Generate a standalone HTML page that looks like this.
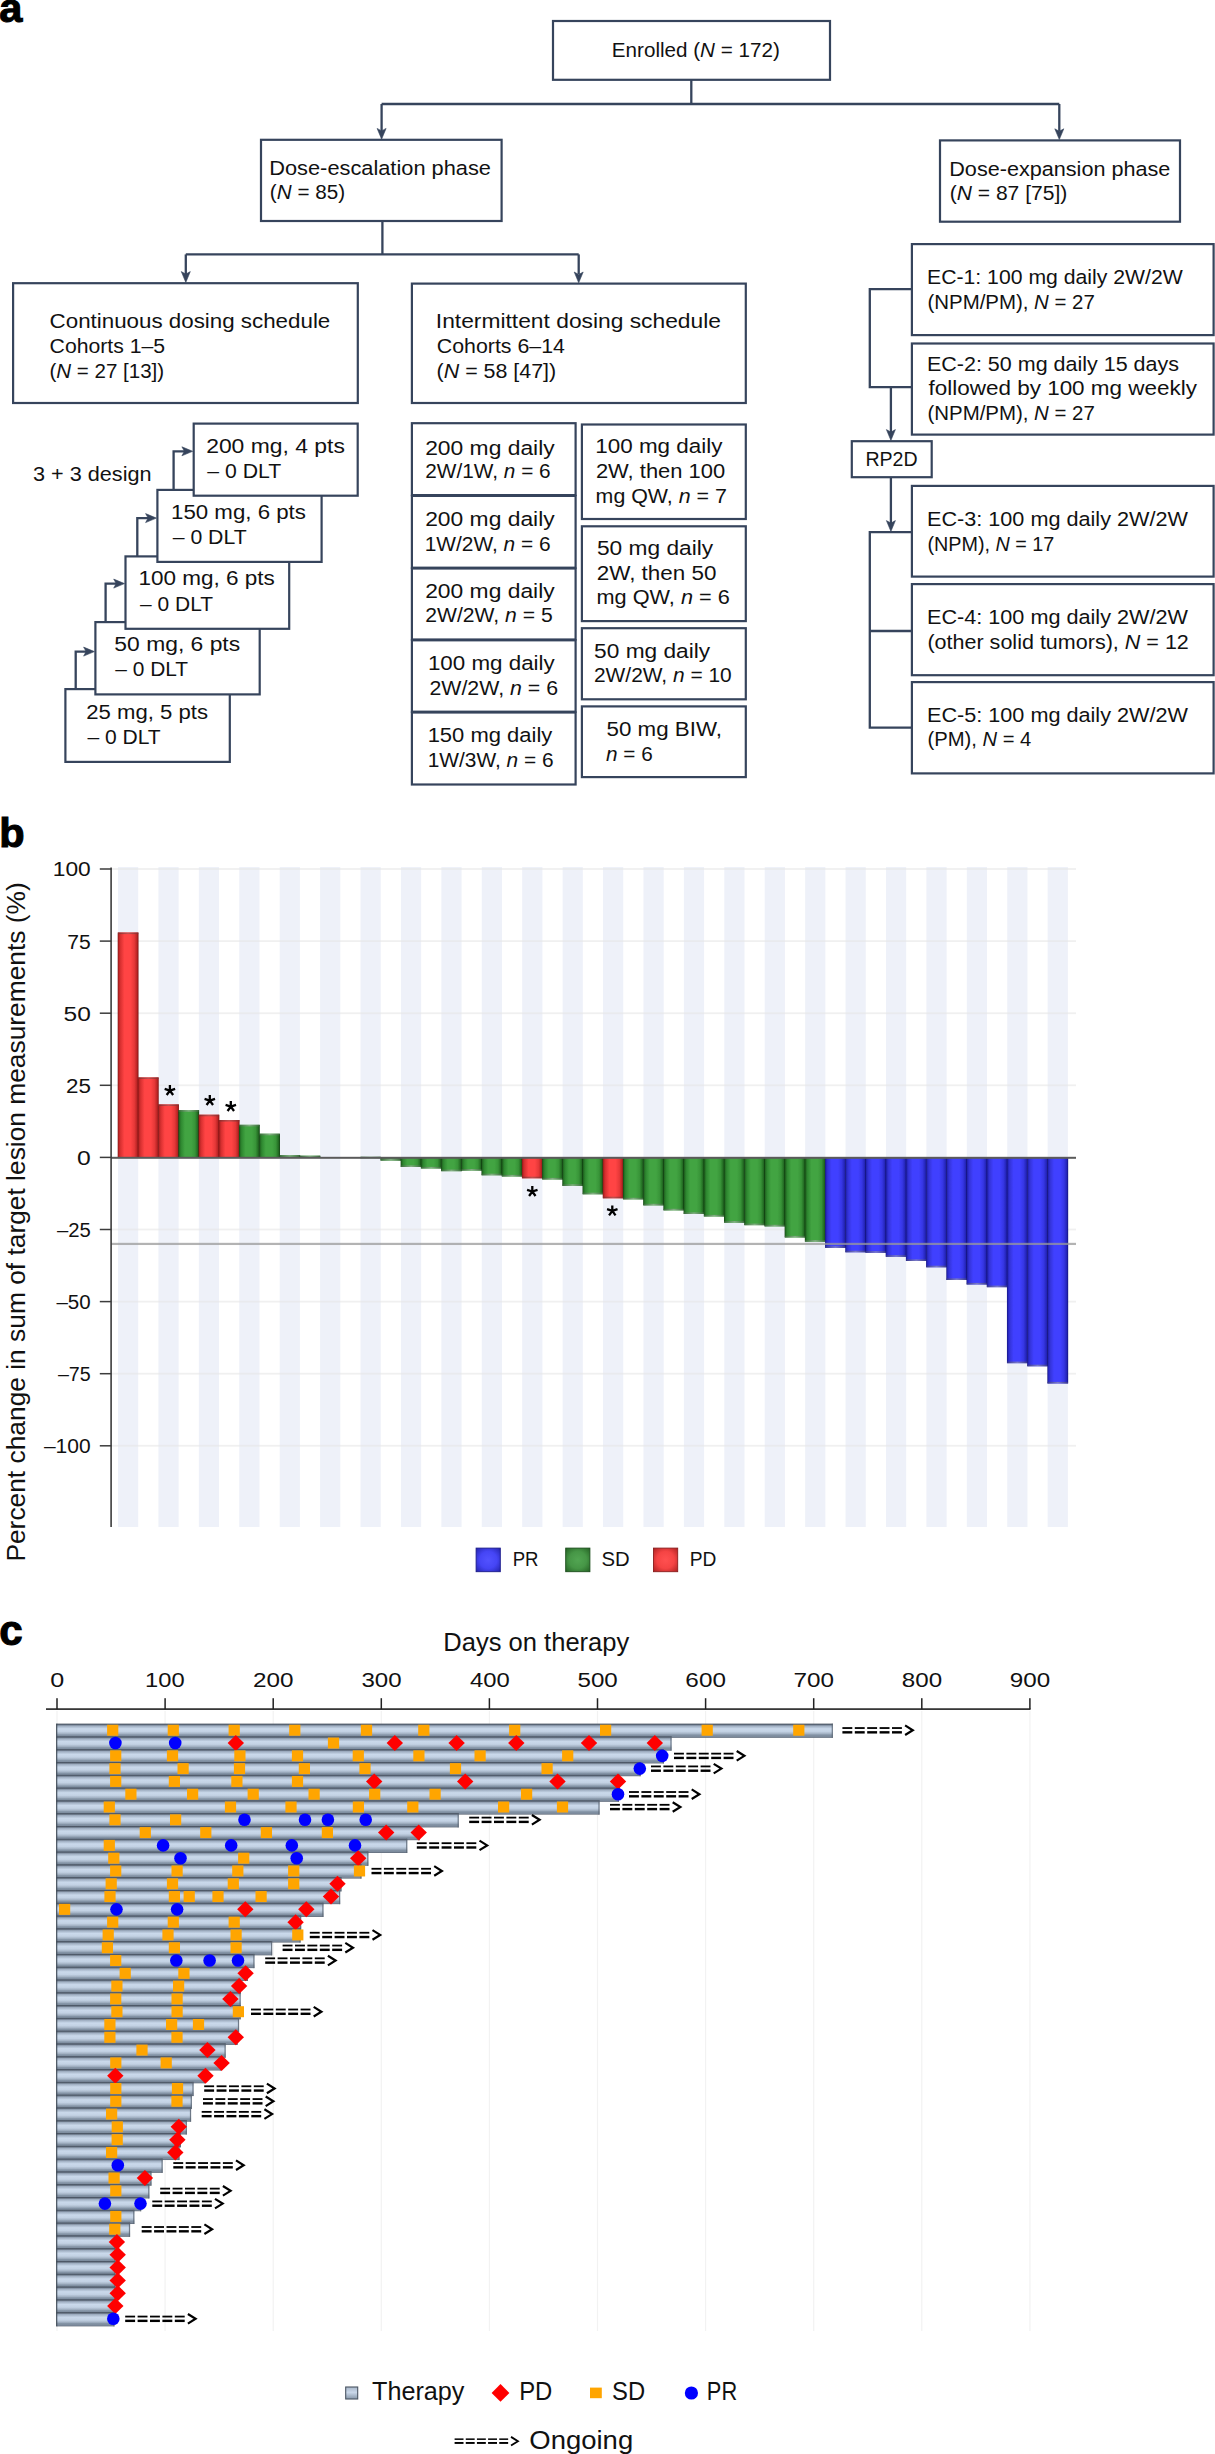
<!DOCTYPE html>
<html><head><meta charset="utf-8"><title>Figure</title>
<style>html,body{margin:0;padding:0;background:#fff;width:1215px;height:2454px;overflow:hidden}svg{display:block}</style>
</head><body>
<svg width="1215" height="2454" viewBox="0 0 1215 2454" font-family='"Liberation Sans", sans-serif'>

<defs>
<linearGradient id="gr" x1="0" x2="1" y1="0" y2="0">
 <stop offset="0" stop-color="#7a1010"/><stop offset="0.05" stop-color="#b82424"/><stop offset="0.13" stop-color="#d83030"/>
 <stop offset="0.32" stop-color="#ff4444"/><stop offset="0.62" stop-color="#ff4444"/><stop offset="0.8" stop-color="#e63838"/><stop offset="0.93" stop-color="#b82424"/><stop offset="1" stop-color="#7a1010"/>
</linearGradient>
<linearGradient id="gg" x1="0" x2="1" y1="0" y2="0">
 <stop offset="0" stop-color="#0e3c0e"/><stop offset="0.05" stop-color="#226a22"/><stop offset="0.13" stop-color="#2e8830"/>
 <stop offset="0.32" stop-color="#42a442"/><stop offset="0.62" stop-color="#42a442"/><stop offset="0.8" stop-color="#389438"/><stop offset="0.93" stop-color="#226a22"/><stop offset="1" stop-color="#0e3c0e"/>
</linearGradient>
<linearGradient id="gb" x1="0" x2="1" y1="0" y2="0">
 <stop offset="0" stop-color="#12127a"/><stop offset="0.05" stop-color="#2424b8"/><stop offset="0.13" stop-color="#3333d8"/>
 <stop offset="0.32" stop-color="#4040ff"/><stop offset="0.62" stop-color="#4040ff"/><stop offset="0.8" stop-color="#3636e4"/><stop offset="0.93" stop-color="#2424b8"/><stop offset="1" stop-color="#12127a"/>
</linearGradient>
<linearGradient id="cr" x1="0" x2="1"><stop offset="0" stop-color="#8a2a2a"/><stop offset="0.5" stop-color="#b85050"/><stop offset="1" stop-color="#8a2a2a"/></linearGradient>
<linearGradient id="cg" x1="0" x2="1"><stop offset="0" stop-color="#3a6a3a"/><stop offset="0.5" stop-color="#8ab08a"/><stop offset="1" stop-color="#3a6a3a"/></linearGradient>
<linearGradient id="cb" x1="0" x2="1"><stop offset="0" stop-color="#3a3a8a"/><stop offset="0.5" stop-color="#8080c0"/><stop offset="1" stop-color="#3a3a8a"/></linearGradient>
<radialGradient id="lr" cx="0.5" cy="0.5" r="0.72"><stop offset="0" stop-color="#ff5050"/><stop offset="0.5" stop-color="#f54444"/><stop offset="0.85" stop-color="#c02a2a"/><stop offset="1" stop-color="#8a1c1c"/></radialGradient>
<radialGradient id="lg" cx="0.5" cy="0.5" r="0.72"><stop offset="0" stop-color="#52a552"/><stop offset="0.5" stop-color="#469646"/><stop offset="0.85" stop-color="#2d702d"/><stop offset="1" stop-color="#1b4d1b"/></radialGradient>
<radialGradient id="lb" cx="0.5" cy="0.5" r="0.72"><stop offset="0" stop-color="#5252ff"/><stop offset="0.5" stop-color="#4545f5"/><stop offset="0.85" stop-color="#2c2cc0"/><stop offset="1" stop-color="#1a1a8a"/></radialGradient>
<linearGradient id="sw" x1="0" x2="0" y1="0" y2="1">
 <stop offset="0" stop-color="#3e4856"/><stop offset="0.07" stop-color="#5c6878"/><stop offset="0.16" stop-color="#9dacbf"/>
 <stop offset="0.36" stop-color="#cad9eb"/><stop offset="0.55" stop-color="#c3d2e4"/><stop offset="0.70" stop-color="#a5b4c6"/>
 <stop offset="0.80" stop-color="#8393a5"/><stop offset="0.93" stop-color="#7b899b"/><stop offset="1" stop-color="#56606e"/>
</linearGradient>
<linearGradient id="lsw" x1="0" x2="0" y1="0" y2="1"><stop offset="0" stop-color="#a8b6c8"/><stop offset="0.45" stop-color="#cad8ea"/><stop offset="1" stop-color="#8898aa"/></linearGradient>
</defs>

<rect width="1215" height="2454" fill="#fff"/>
<text x="-0.8" y="22.0" font-size="41.5" font-weight="bold" fill="#000" stroke="#000" stroke-width="1.1">a</text>
<path d="M691.30,80.00 L691.30,104.00" fill="none" stroke="#36445c" stroke-width="2.3" stroke-linejoin="miter" stroke-linecap="butt"/>
<path d="M381.60,104.00 L1059.30,104.00" fill="none" stroke="#36445c" stroke-width="2.3" stroke-linejoin="miter" stroke-linecap="butt"/>
<path d="M381.60,104.00 L381.60,131.00" fill="none" stroke="#36445c" stroke-width="2.3" stroke-linejoin="miter" stroke-linecap="butt"/>
<path d="M381.60,139.20 L377.10,128.40 L381.60,130.90 L386.10,128.40 Z" fill="#36445c" stroke="#36445c" stroke-width="0.6" stroke-linejoin="round"/>
<path d="M1059.30,104.00 L1059.30,131.00" fill="none" stroke="#36445c" stroke-width="2.3" stroke-linejoin="miter" stroke-linecap="butt"/>
<path d="M1059.30,139.60 L1054.80,128.80 L1059.30,131.30 L1063.80,128.80 Z" fill="#36445c" stroke="#36445c" stroke-width="0.6" stroke-linejoin="round"/>
<path d="M382.40,221.00 L382.40,254.40" fill="none" stroke="#36445c" stroke-width="2.3" stroke-linejoin="miter" stroke-linecap="butt"/>
<path d="M185.80,254.40 L578.70,254.40" fill="none" stroke="#36445c" stroke-width="2.3" stroke-linejoin="miter" stroke-linecap="butt"/>
<path d="M185.80,254.40 L185.80,274.00" fill="none" stroke="#36445c" stroke-width="2.3" stroke-linejoin="miter" stroke-linecap="butt"/>
<path d="M185.80,282.40 L181.30,271.60 L185.80,274.10 L190.30,271.60 Z" fill="#36445c" stroke="#36445c" stroke-width="0.6" stroke-linejoin="round"/>
<path d="M578.70,254.40 L578.70,274.00" fill="none" stroke="#36445c" stroke-width="2.3" stroke-linejoin="miter" stroke-linecap="butt"/>
<path d="M578.70,282.80 L574.20,272.00 L578.70,274.50 L583.20,272.00 Z" fill="#36445c" stroke="#36445c" stroke-width="0.6" stroke-linejoin="round"/>
<path d="M911.90,289.20 L869.80,289.20 L869.80,387.10 L911.90,387.10" fill="none" stroke="#36445c" stroke-width="2.3" stroke-linejoin="miter" stroke-linecap="butt"/>
<path d="M890.90,387.10 L890.90,432.00" fill="none" stroke="#36445c" stroke-width="2.3" stroke-linejoin="miter" stroke-linecap="butt"/>
<path d="M890.90,440.40 L886.40,429.60 L890.90,432.10 L895.40,429.60 Z" fill="#36445c" stroke="#36445c" stroke-width="0.6" stroke-linejoin="round"/>
<path d="M890.90,477.20 L890.90,523.00" fill="none" stroke="#36445c" stroke-width="2.3" stroke-linejoin="miter" stroke-linecap="butt"/>
<path d="M890.90,531.40 L886.40,520.60 L890.90,523.10 L895.40,520.60 Z" fill="#36445c" stroke="#36445c" stroke-width="0.6" stroke-linejoin="round"/>
<path d="M911.90,532.20 L869.80,532.20 L869.80,727.70 L911.90,727.70" fill="none" stroke="#36445c" stroke-width="2.3" stroke-linejoin="miter" stroke-linecap="butt"/>
<path d="M869.80,631.00 L911.90,631.00" fill="none" stroke="#36445c" stroke-width="2.3" stroke-linejoin="miter" stroke-linecap="butt"/>
<rect x="553.00" y="21.00" width="277.00" height="58.80" fill="#fff" stroke="#36445c" stroke-width="2.2"/>
<text x="611.85" y="56.70" font-size="20.5" font-weight="normal" fill="#111" textLength="167.95" lengthAdjust="spacingAndGlyphs" >Enrolled (<tspan font-style="italic">N</tspan> = 172)</text>
<rect x="261.00" y="139.80" width="240.60" height="81.20" fill="#fff" stroke="#36445c" stroke-width="2.2"/>
<text x="269.26" y="174.90" font-size="20.5" font-weight="normal" fill="#111" textLength="221.68" lengthAdjust="spacingAndGlyphs" >Dose-escalation phase</text>
<text x="269.86" y="199.30" font-size="20.5" font-weight="normal" fill="#111" textLength="75.18" lengthAdjust="spacingAndGlyphs" >(<tspan font-style="italic">N</tspan> = 85)</text>
<rect x="940.00" y="140.40" width="240.00" height="81.30" fill="#fff" stroke="#36445c" stroke-width="2.2"/>
<text x="949.27" y="175.50" font-size="20.5" font-weight="normal" fill="#111" textLength="221.08" lengthAdjust="spacingAndGlyphs" >Dose-expansion phase</text>
<text x="949.74" y="199.90" font-size="20.5" font-weight="normal" fill="#111" textLength="117.54" lengthAdjust="spacingAndGlyphs" >(<tspan font-style="italic">N</tspan> = 87 [75])</text>
<rect x="13.10" y="283.20" width="344.70" height="119.80" fill="#fff" stroke="#36445c" stroke-width="2.2"/>
<text x="49.58" y="327.60" font-size="20.5" font-weight="normal" fill="#111" textLength="280.71" lengthAdjust="spacingAndGlyphs" >Continuous dosing schedule</text>
<text x="49.64" y="352.60" font-size="20.5" font-weight="normal" fill="#111" textLength="115.47" lengthAdjust="spacingAndGlyphs" >Cohorts 1–5</text>
<text x="49.47" y="377.60" font-size="20.5" font-weight="normal" fill="#111" textLength="114.68" lengthAdjust="spacingAndGlyphs" >(<tspan font-style="italic">N</tspan> = 27 [13])</text>
<rect x="411.90" y="283.60" width="333.90" height="119.40" fill="#fff" stroke="#36445c" stroke-width="2.2"/>
<text x="435.85" y="328.00" font-size="20.5" font-weight="normal" fill="#111" textLength="285.12" lengthAdjust="spacingAndGlyphs" >Intermittent dosing schedule</text>
<text x="436.83" y="352.90" font-size="20.5" font-weight="normal" fill="#111" textLength="128.08" lengthAdjust="spacingAndGlyphs" >Cohorts 6–14</text>
<text x="436.62" y="377.80" font-size="20.5" font-weight="normal" fill="#111" textLength="119.58" lengthAdjust="spacingAndGlyphs" >(<tspan font-style="italic">N</tspan> = 58 [47])</text>
<rect x="911.90" y="244.10" width="301.70" height="91.00" fill="#fff" stroke="#36445c" stroke-width="2.2"/>
<text x="927.00" y="284.10" font-size="20.5" font-weight="normal" fill="#111" textLength="255.79" lengthAdjust="spacingAndGlyphs" >EC-1: 100 mg daily 2W/2W</text>
<text x="927.47" y="308.70" font-size="20.5" font-weight="normal" fill="#111" textLength="167.36" lengthAdjust="spacingAndGlyphs" >(NPM/PM), <tspan font-style="italic">N</tspan> = 27</text>
<rect x="911.90" y="343.50" width="301.70" height="91.10" fill="#fff" stroke="#36445c" stroke-width="2.2"/>
<text x="926.98" y="370.60" font-size="20.5" font-weight="normal" fill="#111" textLength="252.03" lengthAdjust="spacingAndGlyphs" >EC-2: 50 mg daily 15 days</text>
<text x="928.48" y="395.20" font-size="20.5" font-weight="normal" fill="#111" textLength="268.55" lengthAdjust="spacingAndGlyphs" >followed by 100 mg weekly</text>
<text x="927.47" y="420.10" font-size="20.5" font-weight="normal" fill="#111" textLength="167.36" lengthAdjust="spacingAndGlyphs" >(NPM/PM), <tspan font-style="italic">N</tspan> = 27</text>
<rect x="851.80" y="441.20" width="79.90" height="36.00" fill="#fff" stroke="#36445c" stroke-width="2.2"/>
<text x="865.43" y="465.80" font-size="20.5" font-weight="normal" fill="#111" textLength="52.20" lengthAdjust="spacingAndGlyphs" >RP2D</text>
<rect x="911.90" y="485.90" width="301.70" height="90.70" fill="#fff" stroke="#36445c" stroke-width="2.2"/>
<text x="926.97" y="526.20" font-size="20.5" font-weight="normal" fill="#111" textLength="260.93" lengthAdjust="spacingAndGlyphs" >EC-3: 100 mg daily 2W/2W</text>
<text x="927.51" y="551.10" font-size="20.5" font-weight="normal" fill="#111" textLength="126.84" lengthAdjust="spacingAndGlyphs" >(NPM), <tspan font-style="italic">N</tspan> = 17</text>
<rect x="911.90" y="584.10" width="301.70" height="91.10" fill="#fff" stroke="#36445c" stroke-width="2.2"/>
<text x="926.97" y="623.80" font-size="20.5" font-weight="normal" fill="#111" textLength="260.93" lengthAdjust="spacingAndGlyphs" >EC-4: 100 mg daily 2W/2W</text>
<text x="927.41" y="648.70" font-size="20.5" font-weight="normal" fill="#111" textLength="261.44" lengthAdjust="spacingAndGlyphs" >(other solid tumors), <tspan font-style="italic">N</tspan> = 12</text>
<rect x="911.90" y="682.10" width="301.70" height="91.30" fill="#fff" stroke="#36445c" stroke-width="2.2"/>
<text x="926.97" y="721.70" font-size="20.5" font-weight="normal" fill="#111" textLength="260.93" lengthAdjust="spacingAndGlyphs" >EC-5: 100 mg daily 2W/2W</text>
<text x="927.49" y="746.40" font-size="20.5" font-weight="normal" fill="#111" textLength="103.81" lengthAdjust="spacingAndGlyphs" >(PM), <tspan font-style="italic">N</tspan> = 4</text>
<text x="33.04" y="481.30" font-size="20.5" font-weight="normal" fill="#111" textLength="118.49" lengthAdjust="spacingAndGlyphs" >3 + 3 design</text>
<rect x="65.40" y="689.10" width="164.40" height="72.80" fill="#fff" stroke="#36445c" stroke-width="2.2"/>
<text x="86.29" y="718.60" font-size="20.5" font-weight="normal" fill="#111" textLength="121.74" lengthAdjust="spacingAndGlyphs" >25 mg, 5 pts</text>
<text x="87.40" y="743.70" font-size="20.5" font-weight="normal" fill="#111" textLength="73.28" lengthAdjust="spacingAndGlyphs" >– 0 DLT</text>
<path d="M75.70,689.10 L75.70,651.60 L87.40,651.60" fill="none" stroke="#36445c" stroke-width="2.3" stroke-linejoin="miter" stroke-linecap="butt"/>
<path d="M94.40,651.60 L83.60,647.10 L86.10,651.60 L83.60,656.10 Z" fill="#36445c" stroke="#36445c" stroke-width="0.6" stroke-linejoin="round"/>
<rect x="95.40" y="622.10" width="164.30" height="72.30" fill="#fff" stroke="#36445c" stroke-width="2.2"/>
<text x="114.39" y="650.60" font-size="20.5" font-weight="normal" fill="#111" textLength="125.77" lengthAdjust="spacingAndGlyphs" >50 mg, 6 pts</text>
<text x="115.30" y="676.30" font-size="20.5" font-weight="normal" fill="#111" textLength="72.78" lengthAdjust="spacingAndGlyphs" >– 0 DLT</text>
<path d="M105.60,622.10 L105.60,583.60 L117.50,583.60" fill="none" stroke="#36445c" stroke-width="2.3" stroke-linejoin="miter" stroke-linecap="butt"/>
<path d="M124.50,583.60 L113.70,579.10 L116.20,583.60 L113.70,588.10 Z" fill="#36445c" stroke="#36445c" stroke-width="0.6" stroke-linejoin="round"/>
<rect x="125.50" y="556.40" width="163.70" height="72.40" fill="#fff" stroke="#36445c" stroke-width="2.2"/>
<text x="138.41" y="584.90" font-size="20.5" font-weight="normal" fill="#111" textLength="136.46" lengthAdjust="spacingAndGlyphs" >100 mg, 6 pts</text>
<text x="140.10" y="610.60" font-size="20.5" font-weight="normal" fill="#111" textLength="72.98" lengthAdjust="spacingAndGlyphs" >– 0 DLT</text>
<path d="M137.30,556.40 L137.30,518.10 L149.40,518.10" fill="none" stroke="#36445c" stroke-width="2.3" stroke-linejoin="miter" stroke-linecap="butt"/>
<path d="M156.40,518.10 L145.60,513.60 L148.10,518.10 L145.60,522.60 Z" fill="#36445c" stroke="#36445c" stroke-width="0.6" stroke-linejoin="round"/>
<rect x="157.40" y="489.90" width="164.20" height="72.00" fill="#fff" stroke="#36445c" stroke-width="2.2"/>
<text x="171.03" y="519.30" font-size="20.5" font-weight="normal" fill="#111" textLength="134.93" lengthAdjust="spacingAndGlyphs" >150 mg, 6 pts</text>
<text x="172.70" y="543.80" font-size="20.5" font-weight="normal" fill="#111" textLength="73.99" lengthAdjust="spacingAndGlyphs" >– 0 DLT</text>
<path d="M173.60,489.90 L173.60,451.30 L185.70,451.30" fill="none" stroke="#36445c" stroke-width="2.3" stroke-linejoin="miter" stroke-linecap="butt"/>
<path d="M192.70,451.30 L181.90,446.80 L184.40,451.30 L181.90,455.80 Z" fill="#36445c" stroke="#36445c" stroke-width="0.6" stroke-linejoin="round"/>
<rect x="193.70" y="423.60" width="164.00" height="72.10" fill="#fff" stroke="#36445c" stroke-width="2.2"/>
<text x="206.16" y="453.30" font-size="20.5" font-weight="normal" fill="#111" textLength="138.73" lengthAdjust="spacingAndGlyphs" >200 mg, 4 pts</text>
<text x="207.30" y="477.80" font-size="20.5" font-weight="normal" fill="#111" textLength="73.89" lengthAdjust="spacingAndGlyphs" >– 0 DLT</text>
<rect x="411.90" y="423.20" width="163.70" height="71.90" fill="#fff" stroke="#36445c" stroke-width="2.2"/>
<rect x="411.90" y="495.90" width="163.70" height="71.80" fill="#fff" stroke="#36445c" stroke-width="2.2"/>
<rect x="411.90" y="568.50" width="163.70" height="71.00" fill="#fff" stroke="#36445c" stroke-width="2.2"/>
<rect x="411.90" y="640.30" width="163.70" height="71.40" fill="#fff" stroke="#36445c" stroke-width="2.2"/>
<rect x="411.90" y="712.50" width="163.70" height="72.00" fill="#fff" stroke="#36445c" stroke-width="2.2"/>
<rect x="581.90" y="424.50" width="163.90" height="94.50" fill="#fff" stroke="#36445c" stroke-width="2.2"/>
<rect x="581.90" y="526.30" width="163.90" height="94.80" fill="#fff" stroke="#36445c" stroke-width="2.2"/>
<rect x="581.90" y="628.20" width="163.90" height="71.10" fill="#fff" stroke="#36445c" stroke-width="2.2"/>
<rect x="581.90" y="706.40" width="163.90" height="70.70" fill="#fff" stroke="#36445c" stroke-width="2.2"/>
<text x="425.16" y="454.50" font-size="20.5" font-weight="normal" fill="#111" textLength="129.54" lengthAdjust="spacingAndGlyphs" >200 mg daily</text>
<text x="425.26" y="478.40" font-size="20.5" font-weight="normal" fill="#111" textLength="125.38" lengthAdjust="spacingAndGlyphs" >2W/1W, <tspan font-style="italic">n</tspan> = 6</text>
<text x="425.16" y="525.60" font-size="20.5" font-weight="normal" fill="#111" textLength="129.54" lengthAdjust="spacingAndGlyphs" >200 mg daily</text>
<text x="424.73" y="550.80" font-size="20.5" font-weight="normal" fill="#111" textLength="125.91" lengthAdjust="spacingAndGlyphs" >1W/2W, <tspan font-style="italic">n</tspan> = 6</text>
<text x="425.16" y="597.70" font-size="20.5" font-weight="normal" fill="#111" textLength="129.54" lengthAdjust="spacingAndGlyphs" >200 mg daily</text>
<text x="425.24" y="622.40" font-size="20.5" font-weight="normal" fill="#111" textLength="127.41" lengthAdjust="spacingAndGlyphs" >2W/2W, <tspan font-style="italic">n</tspan> = 5</text>
<text x="427.92" y="670.10" font-size="20.5" font-weight="normal" fill="#111" textLength="126.78" lengthAdjust="spacingAndGlyphs" >100 mg daily</text>
<text x="429.43" y="694.80" font-size="20.5" font-weight="normal" fill="#111" textLength="128.62" lengthAdjust="spacingAndGlyphs" >2W/2W, <tspan font-style="italic">n</tspan> = 6</text>
<text x="427.65" y="741.70" font-size="20.5" font-weight="normal" fill="#111" textLength="124.65" lengthAdjust="spacingAndGlyphs" >150 mg daily</text>
<text x="427.73" y="767.30" font-size="20.5" font-weight="normal" fill="#111" textLength="125.91" lengthAdjust="spacingAndGlyphs" >1W/3W, <tspan font-style="italic">n</tspan> = 6</text>
<text x="595.32" y="452.90" font-size="20.5" font-weight="normal" fill="#111" textLength="127.08" lengthAdjust="spacingAndGlyphs" >100 mg daily</text>
<text x="595.90" y="477.50" font-size="20.5" font-weight="normal" fill="#111" textLength="129.33" lengthAdjust="spacingAndGlyphs" >2W, then 100</text>
<text x="595.61" y="502.70" font-size="20.5" font-weight="normal" fill="#111" textLength="131.27" lengthAdjust="spacingAndGlyphs" >mg QW, <tspan font-style="italic">n</tspan> = 7</text>
<text x="596.99" y="554.90" font-size="20.5" font-weight="normal" fill="#111" textLength="116.18" lengthAdjust="spacingAndGlyphs" >50 mg daily</text>
<text x="596.78" y="579.90" font-size="20.5" font-weight="normal" fill="#111" textLength="119.65" lengthAdjust="spacingAndGlyphs" >2W, then 50</text>
<text x="596.49" y="604.40" font-size="20.5" font-weight="normal" fill="#111" textLength="133.30" lengthAdjust="spacingAndGlyphs" >mg QW, <tspan font-style="italic">n</tspan> = 6</text>
<text x="594.09" y="657.80" font-size="20.5" font-weight="normal" fill="#111" textLength="116.08" lengthAdjust="spacingAndGlyphs" >50 mg daily</text>
<text x="593.95" y="682.00" font-size="20.5" font-weight="normal" fill="#111" textLength="137.81" lengthAdjust="spacingAndGlyphs" >2W/2W, <tspan font-style="italic">n</tspan> = 10</text>
<text x="606.51" y="735.70" font-size="20.5" font-weight="normal" fill="#111" textLength="115.47" lengthAdjust="spacingAndGlyphs" >50 mg BIW,</text>
<text x="606.05" y="760.60" font-size="20.5" font-weight="normal" fill="#111" textLength="46.72" lengthAdjust="spacingAndGlyphs" ><tspan font-style="italic">n</tspan> = 6</text>
<text x="-0.8" y="846.8" font-size="41.5" font-weight="bold" fill="#000" stroke="#000" stroke-width="1.1">b</text>
<rect x="118.00" y="867" width="20.21" height="660" fill="#eef1f9"/>
<rect x="158.42" y="867" width="20.21" height="660" fill="#eef1f9"/>
<rect x="198.84" y="867" width="20.21" height="660" fill="#eef1f9"/>
<rect x="239.26" y="867" width="20.21" height="660" fill="#eef1f9"/>
<rect x="279.68" y="867" width="20.21" height="660" fill="#eef1f9"/>
<rect x="320.10" y="867" width="20.21" height="660" fill="#eef1f9"/>
<rect x="360.52" y="867" width="20.21" height="660" fill="#eef1f9"/>
<rect x="400.94" y="867" width="20.21" height="660" fill="#eef1f9"/>
<rect x="441.36" y="867" width="20.21" height="660" fill="#eef1f9"/>
<rect x="481.78" y="867" width="20.21" height="660" fill="#eef1f9"/>
<rect x="522.20" y="867" width="20.21" height="660" fill="#eef1f9"/>
<rect x="562.62" y="867" width="20.21" height="660" fill="#eef1f9"/>
<rect x="603.04" y="867" width="20.21" height="660" fill="#eef1f9"/>
<rect x="643.46" y="867" width="20.21" height="660" fill="#eef1f9"/>
<rect x="683.88" y="867" width="20.21" height="660" fill="#eef1f9"/>
<rect x="724.30" y="867" width="20.21" height="660" fill="#eef1f9"/>
<rect x="764.72" y="867" width="20.21" height="660" fill="#eef1f9"/>
<rect x="805.14" y="867" width="20.21" height="660" fill="#eef1f9"/>
<rect x="845.56" y="867" width="20.21" height="660" fill="#eef1f9"/>
<rect x="885.98" y="867" width="20.21" height="660" fill="#eef1f9"/>
<rect x="926.40" y="867" width="20.21" height="660" fill="#eef1f9"/>
<rect x="966.82" y="867" width="20.21" height="660" fill="#eef1f9"/>
<rect x="1007.24" y="867" width="20.21" height="660" fill="#eef1f9"/>
<rect x="1047.66" y="867" width="20.21" height="660" fill="#eef1f9"/>
<rect x="111" y="868.10" width="965" height="1.8" fill="#e6e6e6" opacity="0.6"/>
<rect x="111" y="940.20" width="965" height="1.8" fill="#e6e6e6" opacity="0.6"/>
<rect x="111" y="1012.30" width="965" height="1.8" fill="#e6e6e6" opacity="0.6"/>
<rect x="111" y="1084.40" width="965" height="1.8" fill="#e6e6e6" opacity="0.6"/>
<rect x="111" y="1228.60" width="965" height="1.8" fill="#e6e6e6" opacity="0.6"/>
<rect x="111" y="1300.70" width="965" height="1.8" fill="#e6e6e6" opacity="0.6"/>
<rect x="111" y="1372.80" width="965" height="1.8" fill="#e6e6e6" opacity="0.6"/>
<rect x="111" y="1444.90" width="965" height="1.8" fill="#e6e6e6" opacity="0.6"/>
<rect x="117.70" y="932.50" width="20.81" height="224.90" fill="url(#gr)"/>
<rect x="118.00" y="932.50" width="20.21" height="1.6" fill="url(#cr)" opacity="0.9"/>
<rect x="137.91" y="1077.40" width="20.81" height="80.00" fill="url(#gr)"/>
<rect x="138.21" y="1077.40" width="20.21" height="1.6" fill="url(#cr)" opacity="0.9"/>
<rect x="158.12" y="1104.40" width="20.81" height="53.00" fill="url(#gr)"/>
<rect x="158.42" y="1104.40" width="20.21" height="1.6" fill="url(#cr)" opacity="0.9"/>
<rect x="178.33" y="1110.10" width="20.81" height="47.30" fill="url(#gg)"/>
<rect x="178.63" y="1110.10" width="20.21" height="1.6" fill="url(#cg)" opacity="0.9"/>
<rect x="198.54" y="1114.70" width="20.81" height="42.70" fill="url(#gr)"/>
<rect x="198.84" y="1114.70" width="20.21" height="1.6" fill="url(#cr)" opacity="0.9"/>
<rect x="218.75" y="1120.00" width="20.81" height="37.40" fill="url(#gr)"/>
<rect x="219.05" y="1120.00" width="20.21" height="1.6" fill="url(#cr)" opacity="0.9"/>
<rect x="238.96" y="1124.80" width="20.81" height="32.60" fill="url(#gg)"/>
<rect x="239.26" y="1124.80" width="20.21" height="1.6" fill="url(#cg)" opacity="0.9"/>
<rect x="259.17" y="1133.70" width="20.81" height="23.70" fill="url(#gg)"/>
<rect x="259.47" y="1133.70" width="20.21" height="1.6" fill="url(#cg)" opacity="0.9"/>
<rect x="279.38" y="1155.20" width="20.81" height="2.20" fill="url(#gg)"/>
<rect x="279.68" y="1155.20" width="20.21" height="1.6" fill="url(#cg)" opacity="0.9"/>
<rect x="299.59" y="1155.70" width="20.81" height="1.70" fill="url(#gg)"/>
<rect x="299.89" y="1155.70" width="20.21" height="1.6" fill="url(#cg)" opacity="0.9"/>
<rect x="360.22" y="1157.40" width="20.81" height="0.80" fill="url(#gg)"/>
<rect x="360.52" y="1156.60" width="20.21" height="1.6" fill="url(#cg)" opacity="0.9"/>
<rect x="380.43" y="1157.40" width="20.81" height="3.20" fill="url(#gg)"/>
<rect x="380.73" y="1159.00" width="20.21" height="1.6" fill="url(#cg)" opacity="0.9"/>
<rect x="400.64" y="1157.40" width="20.81" height="9.60" fill="url(#gg)"/>
<rect x="400.94" y="1165.40" width="20.21" height="1.6" fill="url(#cg)" opacity="0.9"/>
<rect x="420.85" y="1157.40" width="20.81" height="11.10" fill="url(#gg)"/>
<rect x="421.15" y="1166.90" width="20.21" height="1.6" fill="url(#cg)" opacity="0.9"/>
<rect x="441.06" y="1157.40" width="20.81" height="13.80" fill="url(#gg)"/>
<rect x="441.36" y="1169.60" width="20.21" height="1.6" fill="url(#cg)" opacity="0.9"/>
<rect x="461.27" y="1157.40" width="20.81" height="13.20" fill="url(#gg)"/>
<rect x="461.57" y="1169.00" width="20.21" height="1.6" fill="url(#cg)" opacity="0.9"/>
<rect x="481.48" y="1157.40" width="20.81" height="17.90" fill="url(#gg)"/>
<rect x="481.78" y="1173.70" width="20.21" height="1.6" fill="url(#cg)" opacity="0.9"/>
<rect x="501.69" y="1157.40" width="20.81" height="19.10" fill="url(#gg)"/>
<rect x="501.99" y="1174.90" width="20.21" height="1.6" fill="url(#cg)" opacity="0.9"/>
<rect x="521.90" y="1157.40" width="20.81" height="20.90" fill="url(#gr)"/>
<rect x="522.20" y="1176.70" width="20.21" height="1.6" fill="url(#cr)" opacity="0.9"/>
<rect x="542.11" y="1157.40" width="20.81" height="22.10" fill="url(#gg)"/>
<rect x="542.41" y="1177.90" width="20.21" height="1.6" fill="url(#cg)" opacity="0.9"/>
<rect x="562.32" y="1157.40" width="20.81" height="28.50" fill="url(#gg)"/>
<rect x="562.62" y="1184.30" width="20.21" height="1.6" fill="url(#cg)" opacity="0.9"/>
<rect x="582.53" y="1157.40" width="20.81" height="36.90" fill="url(#gg)"/>
<rect x="582.83" y="1192.70" width="20.21" height="1.6" fill="url(#cg)" opacity="0.9"/>
<rect x="602.74" y="1157.40" width="20.81" height="40.90" fill="url(#gr)"/>
<rect x="603.04" y="1196.70" width="20.21" height="1.6" fill="url(#cr)" opacity="0.9"/>
<rect x="622.95" y="1157.40" width="20.81" height="42.00" fill="url(#gg)"/>
<rect x="623.25" y="1197.80" width="20.21" height="1.6" fill="url(#cg)" opacity="0.9"/>
<rect x="643.16" y="1157.40" width="20.81" height="48.00" fill="url(#gg)"/>
<rect x="643.46" y="1203.80" width="20.21" height="1.6" fill="url(#cg)" opacity="0.9"/>
<rect x="663.37" y="1157.40" width="20.81" height="53.00" fill="url(#gg)"/>
<rect x="663.67" y="1208.80" width="20.21" height="1.6" fill="url(#cg)" opacity="0.9"/>
<rect x="683.58" y="1157.40" width="20.81" height="56.60" fill="url(#gg)"/>
<rect x="683.88" y="1212.40" width="20.21" height="1.6" fill="url(#cg)" opacity="0.9"/>
<rect x="703.79" y="1157.40" width="20.81" height="59.10" fill="url(#gg)"/>
<rect x="704.09" y="1214.90" width="20.21" height="1.6" fill="url(#cg)" opacity="0.9"/>
<rect x="724.00" y="1157.40" width="20.81" height="65.30" fill="url(#gg)"/>
<rect x="724.30" y="1221.10" width="20.21" height="1.6" fill="url(#cg)" opacity="0.9"/>
<rect x="744.21" y="1157.40" width="20.81" height="67.80" fill="url(#gg)"/>
<rect x="744.51" y="1223.60" width="20.21" height="1.6" fill="url(#cg)" opacity="0.9"/>
<rect x="764.42" y="1157.40" width="20.81" height="69.00" fill="url(#gg)"/>
<rect x="764.72" y="1224.80" width="20.21" height="1.6" fill="url(#cg)" opacity="0.9"/>
<rect x="784.63" y="1157.40" width="20.81" height="80.10" fill="url(#gg)"/>
<rect x="784.93" y="1235.90" width="20.21" height="1.6" fill="url(#cg)" opacity="0.9"/>
<rect x="804.84" y="1157.40" width="20.81" height="84.30" fill="url(#gg)"/>
<rect x="805.14" y="1240.10" width="20.21" height="1.6" fill="url(#cg)" opacity="0.9"/>
<rect x="825.05" y="1157.40" width="20.81" height="90.50" fill="url(#gb)"/>
<rect x="825.35" y="1246.30" width="20.21" height="1.6" fill="url(#cb)" opacity="0.9"/>
<rect x="845.26" y="1157.40" width="20.81" height="94.90" fill="url(#gb)"/>
<rect x="845.56" y="1250.70" width="20.21" height="1.6" fill="url(#cb)" opacity="0.9"/>
<rect x="865.47" y="1157.40" width="20.81" height="95.40" fill="url(#gb)"/>
<rect x="865.77" y="1251.20" width="20.21" height="1.6" fill="url(#cb)" opacity="0.9"/>
<rect x="885.68" y="1157.40" width="20.81" height="99.40" fill="url(#gb)"/>
<rect x="885.98" y="1255.20" width="20.21" height="1.6" fill="url(#cb)" opacity="0.9"/>
<rect x="905.89" y="1157.40" width="20.81" height="103.60" fill="url(#gb)"/>
<rect x="906.19" y="1259.40" width="20.21" height="1.6" fill="url(#cb)" opacity="0.9"/>
<rect x="926.10" y="1157.40" width="20.81" height="109.90" fill="url(#gb)"/>
<rect x="926.40" y="1265.70" width="20.21" height="1.6" fill="url(#cb)" opacity="0.9"/>
<rect x="946.31" y="1157.40" width="20.81" height="122.60" fill="url(#gb)"/>
<rect x="946.61" y="1278.40" width="20.21" height="1.6" fill="url(#cb)" opacity="0.9"/>
<rect x="966.52" y="1157.40" width="20.81" height="127.10" fill="url(#gb)"/>
<rect x="966.82" y="1282.90" width="20.21" height="1.6" fill="url(#cb)" opacity="0.9"/>
<rect x="986.73" y="1157.40" width="20.81" height="129.80" fill="url(#gb)"/>
<rect x="987.03" y="1285.60" width="20.21" height="1.6" fill="url(#cb)" opacity="0.9"/>
<rect x="1006.94" y="1157.40" width="20.81" height="205.80" fill="url(#gb)"/>
<rect x="1007.24" y="1361.60" width="20.21" height="1.6" fill="url(#cb)" opacity="0.9"/>
<rect x="1027.15" y="1157.40" width="20.81" height="208.90" fill="url(#gb)"/>
<rect x="1027.45" y="1364.70" width="20.21" height="1.6" fill="url(#cb)" opacity="0.9"/>
<rect x="1047.36" y="1157.40" width="20.81" height="226.10" fill="url(#gb)"/>
<rect x="1047.66" y="1381.90" width="20.21" height="1.6" fill="url(#cb)" opacity="0.9"/>
<rect x="111" y="1156.80" width="965" height="2" fill="#5a5a5a"/>
<rect x="111" y="1242.82" width="965" height="2.2" fill="#9a9a9a" opacity="0.75"/>
<rect x="110.3" y="867.5" width="1.6" height="659.5" fill="#3c3c3c"/>
<rect x="99.8" y="868.25" width="11.5" height="1.5" fill="#3c3c3c"/>
<text x="52.79" y="876.40" font-size="20.5" font-weight="normal" fill="#111" textLength="37.98" lengthAdjust="spacingAndGlyphs" >100</text>
<rect x="99.8" y="940.35" width="11.5" height="1.5" fill="#3c3c3c"/>
<text x="67.35" y="948.50" font-size="20.5" font-weight="normal" fill="#111" textLength="23.45" lengthAdjust="spacingAndGlyphs" >75</text>
<rect x="99.8" y="1012.45" width="11.5" height="1.5" fill="#3c3c3c"/>
<text x="63.52" y="1020.60" font-size="20.5" font-weight="normal" fill="#111" textLength="27.30" lengthAdjust="spacingAndGlyphs" >50</text>
<rect x="99.8" y="1084.55" width="11.5" height="1.5" fill="#3c3c3c"/>
<text x="65.98" y="1092.70" font-size="20.5" font-weight="normal" fill="#111" textLength="24.86" lengthAdjust="spacingAndGlyphs" >25</text>
<rect x="99.8" y="1156.65" width="11.5" height="1.5" fill="#3c3c3c"/>
<text x="77.03" y="1164.80" font-size="20.5" font-weight="normal" fill="#111" textLength="13.76" lengthAdjust="spacingAndGlyphs" >0</text>
<rect x="99.8" y="1228.75" width="11.5" height="1.5" fill="#3c3c3c"/>
<text x="56.90" y="1236.90" font-size="20.5" font-weight="normal" fill="#111" textLength="33.88" lengthAdjust="spacingAndGlyphs" >–25</text>
<rect x="99.8" y="1300.85" width="11.5" height="1.5" fill="#3c3c3c"/>
<text x="56.40" y="1309.00" font-size="20.5" font-weight="normal" fill="#111" textLength="34.29" lengthAdjust="spacingAndGlyphs" >–50</text>
<rect x="99.8" y="1372.95" width="11.5" height="1.5" fill="#3c3c3c"/>
<text x="57.90" y="1381.10" font-size="20.5" font-weight="normal" fill="#111" textLength="32.86" lengthAdjust="spacingAndGlyphs" >–75</text>
<rect x="99.8" y="1445.05" width="11.5" height="1.5" fill="#3c3c3c"/>
<text x="43.90" y="1453.20" font-size="20.5" font-weight="normal" fill="#111" textLength="46.73" lengthAdjust="spacingAndGlyphs" >–100</text>
<path d="M169.90,1090.60 L169.90,1085.10 M169.90,1090.60 L175.13,1088.90 M169.90,1090.60 L164.67,1088.90 M169.90,1090.60 L173.13,1095.05 M169.90,1090.60 L166.67,1095.05 " stroke="#000" stroke-width="2.3" fill="none" stroke-linecap="butt"/>
<path d="M209.80,1100.60 L209.80,1095.10 M209.80,1100.60 L215.03,1098.90 M209.80,1100.60 L204.57,1098.90 M209.80,1100.60 L213.03,1105.05 M209.80,1100.60 L206.57,1105.05 " stroke="#000" stroke-width="2.3" fill="none" stroke-linecap="butt"/>
<path d="M230.80,1106.60 L230.80,1101.10 M230.80,1106.60 L236.03,1104.90 M230.80,1106.60 L225.57,1104.90 M230.80,1106.60 L234.03,1111.05 M230.80,1106.60 L227.57,1111.05 " stroke="#000" stroke-width="2.3" fill="none" stroke-linecap="butt"/>
<path d="M532.30,1191.50 L532.30,1186.00 M532.30,1191.50 L537.53,1189.80 M532.30,1191.50 L527.07,1189.80 M532.30,1191.50 L535.53,1195.95 M532.30,1191.50 L529.07,1195.95 " stroke="#000" stroke-width="2.3" fill="none" stroke-linecap="butt"/>
<path d="M612.30,1210.90 L612.30,1205.40 M612.30,1210.90 L617.53,1209.20 M612.30,1210.90 L607.07,1209.20 M612.30,1210.90 L615.53,1215.35 M612.30,1210.90 L609.07,1215.35 " stroke="#000" stroke-width="2.3" fill="none" stroke-linecap="butt"/>
<text transform="translate(24.9,1561.6) rotate(-90)" x="0" y="0" font-size="25.3" fill="#111" textLength="679.4" lengthAdjust="spacingAndGlyphs">Percent change in sum of target lesion measurements (%)</text>
<rect x="476.10" y="1548.1" width="24.2" height="23.6" fill="url(#lb)" stroke="#1a1a8a" stroke-width="0.9"/>
<text x="512.71" y="1566.20" font-size="21" font-weight="normal" fill="#111" textLength="25.81" lengthAdjust="spacingAndGlyphs" >PR</text>
<rect x="565.70" y="1548.1" width="24.2" height="23.6" fill="url(#lg)" stroke="#1b4d1b" stroke-width="0.9"/>
<text x="601.49" y="1566.20" font-size="21" font-weight="normal" fill="#111" textLength="28.21" lengthAdjust="spacingAndGlyphs" >SD</text>
<rect x="653.50" y="1548.1" width="24.2" height="23.6" fill="url(#lr)" stroke="#8a1c1c" stroke-width="0.9"/>
<text x="689.66" y="1566.20" font-size="21" font-weight="normal" fill="#111" textLength="26.68" lengthAdjust="spacingAndGlyphs" >PD</text>
<text x="-0.8" y="1644.6" font-size="42" font-weight="bold" fill="#000" stroke="#000" stroke-width="1.1">c</text>
<text x="443.36" y="1650.80" font-size="25" font-weight="normal" fill="#111" textLength="185.89" lengthAdjust="spacingAndGlyphs" >Days on therapy</text>
<rect x="56.40" y="1711" width="1.2" height="620" fill="#f2f2f2"/>
<rect x="164.50" y="1711" width="1.2" height="620" fill="#f2f2f2"/>
<rect x="272.60" y="1711" width="1.2" height="620" fill="#f2f2f2"/>
<rect x="380.70" y="1711" width="1.2" height="620" fill="#f2f2f2"/>
<rect x="488.80" y="1711" width="1.2" height="620" fill="#f2f2f2"/>
<rect x="596.90" y="1711" width="1.2" height="620" fill="#f2f2f2"/>
<rect x="705.00" y="1711" width="1.2" height="620" fill="#f2f2f2"/>
<rect x="813.10" y="1711" width="1.2" height="620" fill="#f2f2f2"/>
<rect x="921.20" y="1711" width="1.2" height="620" fill="#f2f2f2"/>
<rect x="1029.30" y="1711" width="1.2" height="620" fill="#f2f2f2"/>
<rect x="46" y="1708.3" width="984.5" height="1.6" fill="#222"/>
<rect x="56.25" y="1698.2" width="1.5" height="11" fill="#222"/>
<text x="50.22" y="1687.00" font-size="20.5" font-weight="normal" fill="#111" textLength="13.99" lengthAdjust="spacingAndGlyphs" >0</text>
<rect x="164.35" y="1698.2" width="1.5" height="11" fill="#222"/>
<text x="145.07" y="1687.00" font-size="20.5" font-weight="normal" fill="#111" textLength="39.59" lengthAdjust="spacingAndGlyphs" >100</text>
<rect x="272.45" y="1698.2" width="1.5" height="11" fill="#222"/>
<text x="252.98" y="1687.00" font-size="20.5" font-weight="normal" fill="#111" textLength="40.55" lengthAdjust="spacingAndGlyphs" >200</text>
<rect x="380.55" y="1698.2" width="1.5" height="11" fill="#222"/>
<text x="361.46" y="1687.00" font-size="20.5" font-weight="normal" fill="#111" textLength="40.17" lengthAdjust="spacingAndGlyphs" >300</text>
<rect x="488.65" y="1698.2" width="1.5" height="11" fill="#222"/>
<text x="469.92" y="1687.00" font-size="20.5" font-weight="normal" fill="#111" textLength="39.80" lengthAdjust="spacingAndGlyphs" >400</text>
<rect x="596.75" y="1698.2" width="1.5" height="11" fill="#222"/>
<text x="577.53" y="1687.00" font-size="20.5" font-weight="normal" fill="#111" textLength="40.30" lengthAdjust="spacingAndGlyphs" >500</text>
<rect x="704.85" y="1698.2" width="1.5" height="11" fill="#222"/>
<text x="685.38" y="1687.00" font-size="20.5" font-weight="normal" fill="#111" textLength="40.55" lengthAdjust="spacingAndGlyphs" >600</text>
<rect x="812.95" y="1698.2" width="1.5" height="11" fill="#222"/>
<text x="793.48" y="1687.00" font-size="20.5" font-weight="normal" fill="#111" textLength="40.55" lengthAdjust="spacingAndGlyphs" >700</text>
<rect x="921.05" y="1698.2" width="1.5" height="11" fill="#222"/>
<text x="901.83" y="1687.00" font-size="20.5" font-weight="normal" fill="#111" textLength="40.30" lengthAdjust="spacingAndGlyphs" >800</text>
<rect x="1029.15" y="1698.2" width="1.5" height="11" fill="#222"/>
<text x="1009.81" y="1687.00" font-size="20.5" font-weight="normal" fill="#111" textLength="40.42" lengthAdjust="spacingAndGlyphs" >900</text>
<rect x="56.5" y="1723.64" width="776.40" height="14.2" fill="url(#sw)"/>
<rect x="831.70" y="1723.64" width="1.2" height="14.2" fill="#5a6472" opacity="0.8"/>
<rect x="56.5" y="1736.43" width="615.10" height="14.2" fill="url(#sw)"/>
<rect x="670.40" y="1736.43" width="1.2" height="14.2" fill="#5a6472" opacity="0.8"/>
<rect x="56.5" y="1749.23" width="607.50" height="14.2" fill="url(#sw)"/>
<rect x="662.80" y="1749.23" width="1.2" height="14.2" fill="#5a6472" opacity="0.8"/>
<rect x="56.5" y="1762.02" width="584.20" height="14.2" fill="url(#sw)"/>
<rect x="639.50" y="1762.02" width="1.2" height="14.2" fill="#5a6472" opacity="0.8"/>
<rect x="56.5" y="1774.82" width="563.50" height="14.2" fill="url(#sw)"/>
<rect x="618.80" y="1774.82" width="1.2" height="14.2" fill="#5a6472" opacity="0.8"/>
<rect x="56.5" y="1787.61" width="562.50" height="14.2" fill="url(#sw)"/>
<rect x="617.80" y="1787.61" width="1.2" height="14.2" fill="#5a6472" opacity="0.8"/>
<rect x="56.5" y="1800.40" width="543.10" height="14.2" fill="url(#sw)"/>
<rect x="598.40" y="1800.40" width="1.2" height="14.2" fill="#5a6472" opacity="0.8"/>
<rect x="56.5" y="1813.20" width="402.30" height="14.2" fill="url(#sw)"/>
<rect x="457.60" y="1813.20" width="1.2" height="14.2" fill="#5a6472" opacity="0.8"/>
<rect x="56.5" y="1825.99" width="363.50" height="14.2" fill="url(#sw)"/>
<rect x="418.80" y="1825.99" width="1.2" height="14.2" fill="#5a6472" opacity="0.8"/>
<rect x="56.5" y="1838.79" width="350.80" height="14.2" fill="url(#sw)"/>
<rect x="406.10" y="1838.79" width="1.2" height="14.2" fill="#5a6472" opacity="0.8"/>
<rect x="56.5" y="1851.58" width="311.90" height="14.2" fill="url(#sw)"/>
<rect x="367.20" y="1851.58" width="1.2" height="14.2" fill="#5a6472" opacity="0.8"/>
<rect x="56.5" y="1864.37" width="305.00" height="14.2" fill="url(#sw)"/>
<rect x="360.30" y="1864.37" width="1.2" height="14.2" fill="#5a6472" opacity="0.8"/>
<rect x="56.5" y="1877.17" width="285.00" height="14.2" fill="url(#sw)"/>
<rect x="340.30" y="1877.17" width="1.2" height="14.2" fill="#5a6472" opacity="0.8"/>
<rect x="56.5" y="1889.96" width="283.70" height="14.2" fill="url(#sw)"/>
<rect x="339.00" y="1889.96" width="1.2" height="14.2" fill="#5a6472" opacity="0.8"/>
<rect x="56.5" y="1902.76" width="267.00" height="14.2" fill="url(#sw)"/>
<rect x="322.30" y="1902.76" width="1.2" height="14.2" fill="#5a6472" opacity="0.8"/>
<rect x="56.5" y="1915.55" width="244.70" height="14.2" fill="url(#sw)"/>
<rect x="300.00" y="1915.55" width="1.2" height="14.2" fill="#5a6472" opacity="0.8"/>
<rect x="56.5" y="1928.34" width="244.10" height="14.2" fill="url(#sw)"/>
<rect x="299.40" y="1928.34" width="1.2" height="14.2" fill="#5a6472" opacity="0.8"/>
<rect x="56.5" y="1941.14" width="215.70" height="14.2" fill="url(#sw)"/>
<rect x="271.00" y="1941.14" width="1.2" height="14.2" fill="#5a6472" opacity="0.8"/>
<rect x="56.5" y="1953.93" width="198.00" height="14.2" fill="url(#sw)"/>
<rect x="253.30" y="1953.93" width="1.2" height="14.2" fill="#5a6472" opacity="0.8"/>
<rect x="56.5" y="1966.73" width="191.40" height="14.2" fill="url(#sw)"/>
<rect x="246.70" y="1966.73" width="1.2" height="14.2" fill="#5a6472" opacity="0.8"/>
<rect x="56.5" y="1979.52" width="184.40" height="14.2" fill="url(#sw)"/>
<rect x="239.70" y="1979.52" width="1.2" height="14.2" fill="#5a6472" opacity="0.8"/>
<rect x="56.5" y="1992.31" width="184.20" height="14.2" fill="url(#sw)"/>
<rect x="239.50" y="1992.31" width="1.2" height="14.2" fill="#5a6472" opacity="0.8"/>
<rect x="56.5" y="2005.11" width="184.20" height="14.2" fill="url(#sw)"/>
<rect x="239.50" y="2005.11" width="1.2" height="14.2" fill="#5a6472" opacity="0.8"/>
<rect x="56.5" y="2017.90" width="182.60" height="14.2" fill="url(#sw)"/>
<rect x="237.90" y="2017.90" width="1.2" height="14.2" fill="#5a6472" opacity="0.8"/>
<rect x="56.5" y="2030.70" width="181.10" height="14.2" fill="url(#sw)"/>
<rect x="236.40" y="2030.70" width="1.2" height="14.2" fill="#5a6472" opacity="0.8"/>
<rect x="56.5" y="2043.49" width="169.20" height="14.2" fill="url(#sw)"/>
<rect x="224.50" y="2043.49" width="1.2" height="14.2" fill="#5a6472" opacity="0.8"/>
<rect x="56.5" y="2056.28" width="164.50" height="14.2" fill="url(#sw)"/>
<rect x="219.80" y="2056.28" width="1.2" height="14.2" fill="#5a6472" opacity="0.8"/>
<rect x="56.5" y="2069.08" width="148.50" height="14.2" fill="url(#sw)"/>
<rect x="203.80" y="2069.08" width="1.2" height="14.2" fill="#5a6472" opacity="0.8"/>
<rect x="56.5" y="2081.87" width="137.10" height="14.2" fill="url(#sw)"/>
<rect x="192.40" y="2081.87" width="1.2" height="14.2" fill="#5a6472" opacity="0.8"/>
<rect x="56.5" y="2094.67" width="135.40" height="14.2" fill="url(#sw)"/>
<rect x="190.70" y="2094.67" width="1.2" height="14.2" fill="#5a6472" opacity="0.8"/>
<rect x="56.5" y="2107.46" width="134.60" height="14.2" fill="url(#sw)"/>
<rect x="189.90" y="2107.46" width="1.2" height="14.2" fill="#5a6472" opacity="0.8"/>
<rect x="56.5" y="2120.25" width="130.40" height="14.2" fill="url(#sw)"/>
<rect x="185.70" y="2120.25" width="1.2" height="14.2" fill="#5a6472" opacity="0.8"/>
<rect x="56.5" y="2133.05" width="124.50" height="14.2" fill="url(#sw)"/>
<rect x="179.80" y="2133.05" width="1.2" height="14.2" fill="#5a6472" opacity="0.8"/>
<rect x="56.5" y="2145.84" width="123.00" height="14.2" fill="url(#sw)"/>
<rect x="178.30" y="2145.84" width="1.2" height="14.2" fill="#5a6472" opacity="0.8"/>
<rect x="56.5" y="2158.64" width="106.20" height="14.2" fill="url(#sw)"/>
<rect x="161.50" y="2158.64" width="1.2" height="14.2" fill="#5a6472" opacity="0.8"/>
<rect x="56.5" y="2171.43" width="95.00" height="14.2" fill="url(#sw)"/>
<rect x="150.30" y="2171.43" width="1.2" height="14.2" fill="#5a6472" opacity="0.8"/>
<rect x="56.5" y="2184.22" width="92.90" height="14.2" fill="url(#sw)"/>
<rect x="148.20" y="2184.22" width="1.2" height="14.2" fill="#5a6472" opacity="0.8"/>
<rect x="56.5" y="2197.02" width="84.70" height="14.2" fill="url(#sw)"/>
<rect x="140.00" y="2197.02" width="1.2" height="14.2" fill="#5a6472" opacity="0.8"/>
<rect x="56.5" y="2209.81" width="77.90" height="14.2" fill="url(#sw)"/>
<rect x="133.20" y="2209.81" width="1.2" height="14.2" fill="#5a6472" opacity="0.8"/>
<rect x="56.5" y="2222.61" width="73.60" height="14.2" fill="url(#sw)"/>
<rect x="128.90" y="2222.61" width="1.2" height="14.2" fill="#5a6472" opacity="0.8"/>
<rect x="56.5" y="2235.40" width="59.00" height="14.2" fill="url(#sw)"/>
<rect x="114.30" y="2235.40" width="1.2" height="14.2" fill="#5a6472" opacity="0.8"/>
<rect x="56.5" y="2248.19" width="59.00" height="14.2" fill="url(#sw)"/>
<rect x="114.30" y="2248.19" width="1.2" height="14.2" fill="#5a6472" opacity="0.8"/>
<rect x="56.5" y="2260.99" width="59.00" height="14.2" fill="url(#sw)"/>
<rect x="114.30" y="2260.99" width="1.2" height="14.2" fill="#5a6472" opacity="0.8"/>
<rect x="56.5" y="2273.78" width="59.00" height="14.2" fill="url(#sw)"/>
<rect x="114.30" y="2273.78" width="1.2" height="14.2" fill="#5a6472" opacity="0.8"/>
<rect x="56.5" y="2286.58" width="59.00" height="14.2" fill="url(#sw)"/>
<rect x="114.30" y="2286.58" width="1.2" height="14.2" fill="#5a6472" opacity="0.8"/>
<rect x="56.5" y="2299.37" width="59.00" height="14.2" fill="url(#sw)"/>
<rect x="114.30" y="2299.37" width="1.2" height="14.2" fill="#5a6472" opacity="0.8"/>
<rect x="56.5" y="2312.16" width="58.00" height="14.2" fill="url(#sw)"/>
<rect x="113.30" y="2312.16" width="1.2" height="14.2" fill="#5a6472" opacity="0.8"/>
<rect x="56" y="1723.64" width="1.3" height="602.72" fill="#3a4450" opacity="0.85"/>
<rect x="107.10" y="1724.74" width="11.2" height="11" fill="#ffa500"/>
<rect x="167.70" y="1724.74" width="11.2" height="11" fill="#ffa500"/>
<rect x="228.60" y="1724.74" width="11.2" height="11" fill="#ffa500"/>
<rect x="289.20" y="1724.74" width="11.2" height="11" fill="#ffa500"/>
<rect x="360.90" y="1724.74" width="11.2" height="11" fill="#ffa500"/>
<rect x="418.20" y="1724.74" width="11.2" height="11" fill="#ffa500"/>
<rect x="509.10" y="1724.74" width="11.2" height="11" fill="#ffa500"/>
<rect x="600.00" y="1724.74" width="11.2" height="11" fill="#ffa500"/>
<rect x="701.60" y="1724.74" width="11.2" height="11" fill="#ffa500"/>
<rect x="793.20" y="1724.74" width="11.2" height="11" fill="#ffa500"/>
<rect x="842.40" y="1727.14" width="9.90" height="1.8" fill="#000"/>
<rect x="842.40" y="1731.14" width="9.90" height="2.4" fill="#000"/>
<rect x="854.80" y="1727.14" width="9.90" height="1.8" fill="#000"/>
<rect x="854.80" y="1731.14" width="9.90" height="2.4" fill="#000"/>
<rect x="867.20" y="1727.14" width="9.90" height="1.8" fill="#000"/>
<rect x="867.20" y="1731.14" width="9.90" height="2.4" fill="#000"/>
<rect x="879.60" y="1727.14" width="9.90" height="1.8" fill="#000"/>
<rect x="879.60" y="1731.14" width="9.90" height="2.4" fill="#000"/>
<rect x="892.00" y="1727.14" width="9.90" height="1.8" fill="#000"/>
<rect x="892.00" y="1731.14" width="9.90" height="2.4" fill="#000"/>
<path d="M905.10,1725.44 L912.80,1730.24 L905.10,1735.04" fill="none" stroke="#000" stroke-width="2.2" stroke-linejoin="miter" stroke-miterlimit="6"/>
<circle cx="115.40" cy="1743.03" r="6.3" fill="#0000ff"/>
<circle cx="175.20" cy="1743.03" r="6.3" fill="#0000ff"/>
<path d="M235.80,1735.03 L244.00,1743.03 L235.80,1751.03 L227.60,1743.03 Z" fill="#ff0000"/>
<rect x="327.90" y="1737.53" width="11.2" height="11" fill="#ffa500"/>
<path d="M394.80,1735.03 L403.00,1743.03 L394.80,1751.03 L386.60,1743.03 Z" fill="#ff0000"/>
<path d="M456.60,1735.03 L464.80,1743.03 L456.60,1751.03 L448.40,1743.03 Z" fill="#ff0000"/>
<path d="M516.30,1735.03 L524.50,1743.03 L516.30,1751.03 L508.10,1743.03 Z" fill="#ff0000"/>
<path d="M589.00,1735.03 L597.20,1743.03 L589.00,1751.03 L580.80,1743.03 Z" fill="#ff0000"/>
<path d="M654.80,1735.03 L663.00,1743.03 L654.80,1751.03 L646.60,1743.03 Z" fill="#ff0000"/>
<rect x="110.10" y="1750.33" width="11.2" height="11" fill="#ffa500"/>
<rect x="166.90" y="1750.33" width="11.2" height="11" fill="#ffa500"/>
<rect x="234.30" y="1750.33" width="11.2" height="11" fill="#ffa500"/>
<rect x="291.90" y="1750.33" width="11.2" height="11" fill="#ffa500"/>
<rect x="352.70" y="1750.33" width="11.2" height="11" fill="#ffa500"/>
<rect x="413.30" y="1750.33" width="11.2" height="11" fill="#ffa500"/>
<rect x="474.50" y="1750.33" width="11.2" height="11" fill="#ffa500"/>
<rect x="562.10" y="1750.33" width="11.2" height="11" fill="#ffa500"/>
<circle cx="662.20" cy="1755.83" r="6.3" fill="#0000ff"/>
<rect x="674.00" y="1752.73" width="9.90" height="1.8" fill="#000"/>
<rect x="674.00" y="1756.73" width="9.90" height="2.4" fill="#000"/>
<rect x="686.40" y="1752.73" width="9.90" height="1.8" fill="#000"/>
<rect x="686.40" y="1756.73" width="9.90" height="2.4" fill="#000"/>
<rect x="698.80" y="1752.73" width="9.90" height="1.8" fill="#000"/>
<rect x="698.80" y="1756.73" width="9.90" height="2.4" fill="#000"/>
<rect x="711.20" y="1752.73" width="9.90" height="1.8" fill="#000"/>
<rect x="711.20" y="1756.73" width="9.90" height="2.4" fill="#000"/>
<rect x="723.60" y="1752.73" width="9.90" height="1.8" fill="#000"/>
<rect x="723.60" y="1756.73" width="9.90" height="2.4" fill="#000"/>
<path d="M736.70,1751.03 L744.40,1755.83 L736.70,1760.63" fill="none" stroke="#000" stroke-width="2.2" stroke-linejoin="miter" stroke-miterlimit="6"/>
<rect x="109.40" y="1763.12" width="11.2" height="11" fill="#ffa500"/>
<rect x="177.50" y="1763.12" width="11.2" height="11" fill="#ffa500"/>
<rect x="233.90" y="1763.12" width="11.2" height="11" fill="#ffa500"/>
<rect x="298.80" y="1763.12" width="11.2" height="11" fill="#ffa500"/>
<rect x="359.40" y="1763.12" width="11.2" height="11" fill="#ffa500"/>
<rect x="449.90" y="1763.12" width="11.2" height="11" fill="#ffa500"/>
<rect x="541.50" y="1763.12" width="11.2" height="11" fill="#ffa500"/>
<circle cx="639.80" cy="1768.62" r="6.3" fill="#0000ff"/>
<rect x="651.00" y="1765.52" width="9.90" height="1.8" fill="#000"/>
<rect x="651.00" y="1769.52" width="9.90" height="2.4" fill="#000"/>
<rect x="663.40" y="1765.52" width="9.90" height="1.8" fill="#000"/>
<rect x="663.40" y="1769.52" width="9.90" height="2.4" fill="#000"/>
<rect x="675.80" y="1765.52" width="9.90" height="1.8" fill="#000"/>
<rect x="675.80" y="1769.52" width="9.90" height="2.4" fill="#000"/>
<rect x="688.20" y="1765.52" width="9.90" height="1.8" fill="#000"/>
<rect x="688.20" y="1769.52" width="9.90" height="2.4" fill="#000"/>
<rect x="700.60" y="1765.52" width="9.90" height="1.8" fill="#000"/>
<rect x="700.60" y="1769.52" width="9.90" height="2.4" fill="#000"/>
<path d="M713.70,1763.82 L721.40,1768.62 L713.70,1773.42" fill="none" stroke="#000" stroke-width="2.2" stroke-linejoin="miter" stroke-miterlimit="6"/>
<rect x="110.10" y="1775.92" width="11.2" height="11" fill="#ffa500"/>
<rect x="168.80" y="1775.92" width="11.2" height="11" fill="#ffa500"/>
<rect x="231.30" y="1775.92" width="11.2" height="11" fill="#ffa500"/>
<rect x="291.90" y="1775.92" width="11.2" height="11" fill="#ffa500"/>
<path d="M374.20,1773.42 L382.40,1781.42 L374.20,1789.42 L366.00,1781.42 Z" fill="#ff0000"/>
<path d="M465.20,1773.42 L473.40,1781.42 L465.20,1789.42 L457.00,1781.42 Z" fill="#ff0000"/>
<path d="M557.50,1773.42 L565.70,1781.42 L557.50,1789.42 L549.30,1781.42 Z" fill="#ff0000"/>
<path d="M618.00,1773.42 L626.20,1781.42 L618.00,1789.42 L609.80,1781.42 Z" fill="#ff0000"/>
<rect x="125.30" y="1788.71" width="11.2" height="11" fill="#ffa500"/>
<rect x="187.00" y="1788.71" width="11.2" height="11" fill="#ffa500"/>
<rect x="247.60" y="1788.71" width="11.2" height="11" fill="#ffa500"/>
<rect x="308.50" y="1788.71" width="11.2" height="11" fill="#ffa500"/>
<rect x="369.10" y="1788.71" width="11.2" height="11" fill="#ffa500"/>
<rect x="429.50" y="1788.71" width="11.2" height="11" fill="#ffa500"/>
<rect x="521.00" y="1788.71" width="11.2" height="11" fill="#ffa500"/>
<circle cx="618.00" cy="1794.21" r="6.3" fill="#0000ff"/>
<rect x="629.00" y="1791.11" width="9.90" height="1.8" fill="#000"/>
<rect x="629.00" y="1795.11" width="9.90" height="2.4" fill="#000"/>
<rect x="641.40" y="1791.11" width="9.90" height="1.8" fill="#000"/>
<rect x="641.40" y="1795.11" width="9.90" height="2.4" fill="#000"/>
<rect x="653.80" y="1791.11" width="9.90" height="1.8" fill="#000"/>
<rect x="653.80" y="1795.11" width="9.90" height="2.4" fill="#000"/>
<rect x="666.20" y="1791.11" width="9.90" height="1.8" fill="#000"/>
<rect x="666.20" y="1795.11" width="9.90" height="2.4" fill="#000"/>
<rect x="678.60" y="1791.11" width="9.90" height="1.8" fill="#000"/>
<rect x="678.60" y="1795.11" width="9.90" height="2.4" fill="#000"/>
<path d="M691.70,1789.41 L699.40,1794.21 L691.70,1799.01" fill="none" stroke="#000" stroke-width="2.2" stroke-linejoin="miter" stroke-miterlimit="6"/>
<rect x="103.70" y="1801.50" width="11.2" height="11" fill="#ffa500"/>
<rect x="224.90" y="1801.50" width="11.2" height="11" fill="#ffa500"/>
<rect x="285.40" y="1801.50" width="11.2" height="11" fill="#ffa500"/>
<rect x="352.80" y="1801.50" width="11.2" height="11" fill="#ffa500"/>
<rect x="407.20" y="1801.50" width="11.2" height="11" fill="#ffa500"/>
<rect x="498.00" y="1801.50" width="11.2" height="11" fill="#ffa500"/>
<rect x="556.90" y="1801.50" width="11.2" height="11" fill="#ffa500"/>
<rect x="610.00" y="1803.90" width="9.90" height="1.8" fill="#000"/>
<rect x="610.00" y="1807.90" width="9.90" height="2.4" fill="#000"/>
<rect x="622.40" y="1803.90" width="9.90" height="1.8" fill="#000"/>
<rect x="622.40" y="1807.90" width="9.90" height="2.4" fill="#000"/>
<rect x="634.80" y="1803.90" width="9.90" height="1.8" fill="#000"/>
<rect x="634.80" y="1807.90" width="9.90" height="2.4" fill="#000"/>
<rect x="647.20" y="1803.90" width="9.90" height="1.8" fill="#000"/>
<rect x="647.20" y="1807.90" width="9.90" height="2.4" fill="#000"/>
<rect x="659.60" y="1803.90" width="9.90" height="1.8" fill="#000"/>
<rect x="659.60" y="1807.90" width="9.90" height="2.4" fill="#000"/>
<path d="M672.70,1802.20 L680.40,1807.00 L672.70,1811.80" fill="none" stroke="#000" stroke-width="2.2" stroke-linejoin="miter" stroke-miterlimit="6"/>
<rect x="109.40" y="1814.30" width="11.2" height="11" fill="#ffa500"/>
<rect x="170.00" y="1814.30" width="11.2" height="11" fill="#ffa500"/>
<circle cx="244.50" cy="1819.80" r="6.3" fill="#0000ff"/>
<circle cx="305.00" cy="1819.80" r="6.3" fill="#0000ff"/>
<circle cx="327.90" cy="1819.80" r="6.3" fill="#0000ff"/>
<circle cx="365.70" cy="1819.80" r="6.3" fill="#0000ff"/>
<rect x="469.20" y="1816.70" width="9.90" height="1.8" fill="#000"/>
<rect x="469.20" y="1820.70" width="9.90" height="2.4" fill="#000"/>
<rect x="481.60" y="1816.70" width="9.90" height="1.8" fill="#000"/>
<rect x="481.60" y="1820.70" width="9.90" height="2.4" fill="#000"/>
<rect x="494.00" y="1816.70" width="9.90" height="1.8" fill="#000"/>
<rect x="494.00" y="1820.70" width="9.90" height="2.4" fill="#000"/>
<rect x="506.40" y="1816.70" width="9.90" height="1.8" fill="#000"/>
<rect x="506.40" y="1820.70" width="9.90" height="2.4" fill="#000"/>
<rect x="518.80" y="1816.70" width="9.90" height="1.8" fill="#000"/>
<rect x="518.80" y="1820.70" width="9.90" height="2.4" fill="#000"/>
<path d="M531.90,1815.00 L539.60,1819.80 L531.90,1824.60" fill="none" stroke="#000" stroke-width="2.2" stroke-linejoin="miter" stroke-miterlimit="6"/>
<rect x="139.70" y="1827.09" width="11.2" height="11" fill="#ffa500"/>
<rect x="200.20" y="1827.09" width="11.2" height="11" fill="#ffa500"/>
<rect x="260.80" y="1827.09" width="11.2" height="11" fill="#ffa500"/>
<rect x="321.80" y="1827.09" width="11.2" height="11" fill="#ffa500"/>
<path d="M386.20,1824.59 L394.40,1832.59 L386.20,1840.59 L378.00,1832.59 Z" fill="#ff0000"/>
<path d="M418.70,1824.59 L426.90,1832.59 L418.70,1840.59 L410.50,1832.59 Z" fill="#ff0000"/>
<rect x="103.70" y="1839.89" width="11.2" height="11" fill="#ffa500"/>
<circle cx="163.10" cy="1845.39" r="6.3" fill="#0000ff"/>
<circle cx="231.20" cy="1845.39" r="6.3" fill="#0000ff"/>
<circle cx="291.80" cy="1845.39" r="6.3" fill="#0000ff"/>
<circle cx="355.00" cy="1845.39" r="6.3" fill="#0000ff"/>
<rect x="416.80" y="1842.29" width="9.90" height="1.8" fill="#000"/>
<rect x="416.80" y="1846.29" width="9.90" height="2.4" fill="#000"/>
<rect x="429.20" y="1842.29" width="9.90" height="1.8" fill="#000"/>
<rect x="429.20" y="1846.29" width="9.90" height="2.4" fill="#000"/>
<rect x="441.60" y="1842.29" width="9.90" height="1.8" fill="#000"/>
<rect x="441.60" y="1846.29" width="9.90" height="2.4" fill="#000"/>
<rect x="454.00" y="1842.29" width="9.90" height="1.8" fill="#000"/>
<rect x="454.00" y="1846.29" width="9.90" height="2.4" fill="#000"/>
<rect x="466.40" y="1842.29" width="9.90" height="1.8" fill="#000"/>
<rect x="466.40" y="1846.29" width="9.90" height="2.4" fill="#000"/>
<path d="M479.50,1840.59 L487.20,1845.39 L479.50,1850.19" fill="none" stroke="#000" stroke-width="2.2" stroke-linejoin="miter" stroke-miterlimit="6"/>
<rect x="108.20" y="1852.68" width="11.2" height="11" fill="#ffa500"/>
<circle cx="180.50" cy="1858.18" r="6.3" fill="#0000ff"/>
<rect x="238.10" y="1852.68" width="11.2" height="11" fill="#ffa500"/>
<circle cx="296.70" cy="1858.18" r="6.3" fill="#0000ff"/>
<path d="M358.20,1850.18 L366.40,1858.18 L358.20,1866.18 L350.00,1858.18 Z" fill="#ff0000"/>
<rect x="110.10" y="1865.47" width="11.2" height="11" fill="#ffa500"/>
<rect x="171.50" y="1865.47" width="11.2" height="11" fill="#ffa500"/>
<rect x="232.20" y="1865.47" width="11.2" height="11" fill="#ffa500"/>
<rect x="288.10" y="1865.47" width="11.2" height="11" fill="#ffa500"/>
<rect x="353.90" y="1865.47" width="11.2" height="11" fill="#ffa500"/>
<rect x="371.50" y="1867.87" width="9.90" height="1.8" fill="#000"/>
<rect x="371.50" y="1871.87" width="9.90" height="2.4" fill="#000"/>
<rect x="383.90" y="1867.87" width="9.90" height="1.8" fill="#000"/>
<rect x="383.90" y="1871.87" width="9.90" height="2.4" fill="#000"/>
<rect x="396.30" y="1867.87" width="9.90" height="1.8" fill="#000"/>
<rect x="396.30" y="1871.87" width="9.90" height="2.4" fill="#000"/>
<rect x="408.70" y="1867.87" width="9.90" height="1.8" fill="#000"/>
<rect x="408.70" y="1871.87" width="9.90" height="2.4" fill="#000"/>
<rect x="421.10" y="1867.87" width="9.90" height="1.8" fill="#000"/>
<rect x="421.10" y="1871.87" width="9.90" height="2.4" fill="#000"/>
<path d="M434.20,1866.17 L441.90,1870.97 L434.20,1875.77" fill="none" stroke="#000" stroke-width="2.2" stroke-linejoin="miter" stroke-miterlimit="6"/>
<rect x="105.60" y="1878.27" width="11.2" height="11" fill="#ffa500"/>
<rect x="166.90" y="1878.27" width="11.2" height="11" fill="#ffa500"/>
<rect x="227.70" y="1878.27" width="11.2" height="11" fill="#ffa500"/>
<rect x="288.10" y="1878.27" width="11.2" height="11" fill="#ffa500"/>
<path d="M337.50,1875.77 L345.70,1883.77 L337.50,1891.77 L329.30,1883.77 Z" fill="#ff0000"/>
<rect x="104.40" y="1891.06" width="11.2" height="11" fill="#ffa500"/>
<rect x="168.80" y="1891.06" width="11.2" height="11" fill="#ffa500"/>
<rect x="183.60" y="1891.06" width="11.2" height="11" fill="#ffa500"/>
<rect x="212.40" y="1891.06" width="11.2" height="11" fill="#ffa500"/>
<rect x="255.50" y="1891.06" width="11.2" height="11" fill="#ffa500"/>
<path d="M331.00,1888.56 L339.20,1896.56 L331.00,1904.56 L322.80,1896.56 Z" fill="#ff0000"/>
<rect x="59.00" y="1903.86" width="11.2" height="11" fill="#ffa500"/>
<circle cx="116.50" cy="1909.36" r="6.3" fill="#0000ff"/>
<circle cx="177.10" cy="1909.36" r="6.3" fill="#0000ff"/>
<path d="M245.30,1901.36 L253.50,1909.36 L245.30,1917.36 L237.10,1909.36 Z" fill="#ff0000"/>
<path d="M306.30,1901.36 L314.50,1909.36 L306.30,1917.36 L298.10,1909.36 Z" fill="#ff0000"/>
<rect x="107.10" y="1916.65" width="11.2" height="11" fill="#ffa500"/>
<rect x="167.70" y="1916.65" width="11.2" height="11" fill="#ffa500"/>
<rect x="228.60" y="1916.65" width="11.2" height="11" fill="#ffa500"/>
<path d="M295.60,1914.15 L303.80,1922.15 L295.60,1930.15 L287.40,1922.15 Z" fill="#ff0000"/>
<rect x="102.60" y="1929.44" width="11.2" height="11" fill="#ffa500"/>
<rect x="162.40" y="1929.44" width="11.2" height="11" fill="#ffa500"/>
<rect x="230.50" y="1929.44" width="11.2" height="11" fill="#ffa500"/>
<rect x="292.20" y="1929.44" width="11.2" height="11" fill="#ffa500"/>
<rect x="309.80" y="1931.84" width="9.90" height="1.8" fill="#000"/>
<rect x="309.80" y="1935.84" width="9.90" height="2.4" fill="#000"/>
<rect x="322.20" y="1931.84" width="9.90" height="1.8" fill="#000"/>
<rect x="322.20" y="1935.84" width="9.90" height="2.4" fill="#000"/>
<rect x="334.60" y="1931.84" width="9.90" height="1.8" fill="#000"/>
<rect x="334.60" y="1935.84" width="9.90" height="2.4" fill="#000"/>
<rect x="347.00" y="1931.84" width="9.90" height="1.8" fill="#000"/>
<rect x="347.00" y="1935.84" width="9.90" height="2.4" fill="#000"/>
<rect x="359.40" y="1931.84" width="9.90" height="1.8" fill="#000"/>
<rect x="359.40" y="1935.84" width="9.90" height="2.4" fill="#000"/>
<path d="M372.50,1930.14 L380.20,1934.94 L372.50,1939.74" fill="none" stroke="#000" stroke-width="2.2" stroke-linejoin="miter" stroke-miterlimit="6"/>
<rect x="101.80" y="1942.24" width="11.2" height="11" fill="#ffa500"/>
<rect x="168.80" y="1942.24" width="11.2" height="11" fill="#ffa500"/>
<rect x="230.50" y="1942.24" width="11.2" height="11" fill="#ffa500"/>
<rect x="282.60" y="1944.64" width="9.90" height="1.8" fill="#000"/>
<rect x="282.60" y="1948.64" width="9.90" height="2.4" fill="#000"/>
<rect x="295.00" y="1944.64" width="9.90" height="1.8" fill="#000"/>
<rect x="295.00" y="1948.64" width="9.90" height="2.4" fill="#000"/>
<rect x="307.40" y="1944.64" width="9.90" height="1.8" fill="#000"/>
<rect x="307.40" y="1948.64" width="9.90" height="2.4" fill="#000"/>
<rect x="319.80" y="1944.64" width="9.90" height="1.8" fill="#000"/>
<rect x="319.80" y="1948.64" width="9.90" height="2.4" fill="#000"/>
<rect x="332.20" y="1944.64" width="9.90" height="1.8" fill="#000"/>
<rect x="332.20" y="1948.64" width="9.90" height="2.4" fill="#000"/>
<path d="M345.30,1942.94 L353.00,1947.74 L345.30,1952.54" fill="none" stroke="#000" stroke-width="2.2" stroke-linejoin="miter" stroke-miterlimit="6"/>
<rect x="110.10" y="1955.03" width="11.2" height="11" fill="#ffa500"/>
<circle cx="176.30" cy="1960.53" r="6.3" fill="#0000ff"/>
<circle cx="209.60" cy="1960.53" r="6.3" fill="#0000ff"/>
<circle cx="238.00" cy="1960.53" r="6.3" fill="#0000ff"/>
<rect x="265.20" y="1957.43" width="9.90" height="1.8" fill="#000"/>
<rect x="265.20" y="1961.43" width="9.90" height="2.4" fill="#000"/>
<rect x="277.60" y="1957.43" width="9.90" height="1.8" fill="#000"/>
<rect x="277.60" y="1961.43" width="9.90" height="2.4" fill="#000"/>
<rect x="290.00" y="1957.43" width="9.90" height="1.8" fill="#000"/>
<rect x="290.00" y="1961.43" width="9.90" height="2.4" fill="#000"/>
<rect x="302.40" y="1957.43" width="9.90" height="1.8" fill="#000"/>
<rect x="302.40" y="1961.43" width="9.90" height="2.4" fill="#000"/>
<rect x="314.80" y="1957.43" width="9.90" height="1.8" fill="#000"/>
<rect x="314.80" y="1961.43" width="9.90" height="2.4" fill="#000"/>
<path d="M327.90,1955.73 L335.60,1960.53 L327.90,1965.33" fill="none" stroke="#000" stroke-width="2.2" stroke-linejoin="miter" stroke-miterlimit="6"/>
<rect x="119.60" y="1967.83" width="11.2" height="11" fill="#ffa500"/>
<rect x="178.30" y="1967.83" width="11.2" height="11" fill="#ffa500"/>
<path d="M245.60,1965.33 L253.80,1973.33 L245.60,1981.33 L237.40,1973.33 Z" fill="#ff0000"/>
<rect x="111.30" y="1980.62" width="11.2" height="11" fill="#ffa500"/>
<rect x="173.00" y="1980.62" width="11.2" height="11" fill="#ffa500"/>
<path d="M239.10,1978.12 L247.30,1986.12 L239.10,1994.12 L230.90,1986.12 Z" fill="#ff0000"/>
<rect x="110.10" y="1993.41" width="11.2" height="11" fill="#ffa500"/>
<rect x="171.50" y="1993.41" width="11.2" height="11" fill="#ffa500"/>
<path d="M230.40,1990.91 L238.60,1998.91 L230.40,2006.91 L222.20,1998.91 Z" fill="#ff0000"/>
<rect x="111.30" y="2006.21" width="11.2" height="11" fill="#ffa500"/>
<rect x="171.50" y="2006.21" width="11.2" height="11" fill="#ffa500"/>
<rect x="232.80" y="2006.21" width="11.2" height="11" fill="#ffa500"/>
<rect x="251.00" y="2008.61" width="9.90" height="1.8" fill="#000"/>
<rect x="251.00" y="2012.61" width="9.90" height="2.4" fill="#000"/>
<rect x="263.40" y="2008.61" width="9.90" height="1.8" fill="#000"/>
<rect x="263.40" y="2012.61" width="9.90" height="2.4" fill="#000"/>
<rect x="275.80" y="2008.61" width="9.90" height="1.8" fill="#000"/>
<rect x="275.80" y="2012.61" width="9.90" height="2.4" fill="#000"/>
<rect x="288.20" y="2008.61" width="9.90" height="1.8" fill="#000"/>
<rect x="288.20" y="2012.61" width="9.90" height="2.4" fill="#000"/>
<rect x="300.60" y="2008.61" width="9.90" height="1.8" fill="#000"/>
<rect x="300.60" y="2012.61" width="9.90" height="2.4" fill="#000"/>
<path d="M313.70,2006.91 L321.40,2011.71 L313.70,2016.51" fill="none" stroke="#000" stroke-width="2.2" stroke-linejoin="miter" stroke-miterlimit="6"/>
<rect x="104.30" y="2019.00" width="11.2" height="11" fill="#ffa500"/>
<rect x="166.00" y="2019.00" width="11.2" height="11" fill="#ffa500"/>
<rect x="192.90" y="2019.00" width="11.2" height="11" fill="#ffa500"/>
<rect x="104.30" y="2031.80" width="11.2" height="11" fill="#ffa500"/>
<rect x="171.40" y="2031.80" width="11.2" height="11" fill="#ffa500"/>
<path d="M235.80,2029.30 L244.00,2037.30 L235.80,2045.30 L227.60,2037.30 Z" fill="#ff0000"/>
<rect x="136.40" y="2044.59" width="11.2" height="11" fill="#ffa500"/>
<path d="M207.40,2042.09 L215.60,2050.09 L207.40,2058.09 L199.20,2050.09 Z" fill="#ff0000"/>
<rect x="110.20" y="2057.38" width="11.2" height="11" fill="#ffa500"/>
<rect x="160.60" y="2057.38" width="11.2" height="11" fill="#ffa500"/>
<path d="M221.60,2054.88 L229.80,2062.88 L221.60,2070.88 L213.40,2062.88 Z" fill="#ff0000"/>
<path d="M115.30,2067.68 L123.50,2075.68 L115.30,2083.68 L107.10,2075.68 Z" fill="#ff0000"/>
<path d="M205.50,2067.68 L213.70,2075.68 L205.50,2083.68 L197.30,2075.68 Z" fill="#ff0000"/>
<rect x="110.20" y="2082.97" width="11.2" height="11" fill="#ffa500"/>
<rect x="171.90" y="2082.97" width="11.2" height="11" fill="#ffa500"/>
<rect x="204.20" y="2085.37" width="9.90" height="1.8" fill="#000"/>
<rect x="204.20" y="2089.37" width="9.90" height="2.4" fill="#000"/>
<rect x="216.60" y="2085.37" width="9.90" height="1.8" fill="#000"/>
<rect x="216.60" y="2089.37" width="9.90" height="2.4" fill="#000"/>
<rect x="229.00" y="2085.37" width="9.90" height="1.8" fill="#000"/>
<rect x="229.00" y="2089.37" width="9.90" height="2.4" fill="#000"/>
<rect x="241.40" y="2085.37" width="9.90" height="1.8" fill="#000"/>
<rect x="241.40" y="2089.37" width="9.90" height="2.4" fill="#000"/>
<rect x="253.80" y="2085.37" width="9.90" height="1.8" fill="#000"/>
<rect x="253.80" y="2089.37" width="9.90" height="2.4" fill="#000"/>
<path d="M266.90,2083.67 L274.60,2088.47 L266.90,2093.27" fill="none" stroke="#000" stroke-width="2.2" stroke-linejoin="miter" stroke-miterlimit="6"/>
<rect x="110.20" y="2095.77" width="11.2" height="11" fill="#ffa500"/>
<rect x="171.40" y="2095.77" width="11.2" height="11" fill="#ffa500"/>
<rect x="203.00" y="2098.17" width="9.90" height="1.8" fill="#000"/>
<rect x="203.00" y="2102.17" width="9.90" height="2.4" fill="#000"/>
<rect x="215.40" y="2098.17" width="9.90" height="1.8" fill="#000"/>
<rect x="215.40" y="2102.17" width="9.90" height="2.4" fill="#000"/>
<rect x="227.80" y="2098.17" width="9.90" height="1.8" fill="#000"/>
<rect x="227.80" y="2102.17" width="9.90" height="2.4" fill="#000"/>
<rect x="240.20" y="2098.17" width="9.90" height="1.8" fill="#000"/>
<rect x="240.20" y="2102.17" width="9.90" height="2.4" fill="#000"/>
<rect x="252.60" y="2098.17" width="9.90" height="1.8" fill="#000"/>
<rect x="252.60" y="2102.17" width="9.90" height="2.4" fill="#000"/>
<path d="M265.70,2096.47 L273.40,2101.27 L265.70,2106.07" fill="none" stroke="#000" stroke-width="2.2" stroke-linejoin="miter" stroke-miterlimit="6"/>
<rect x="106.00" y="2108.56" width="11.2" height="11" fill="#ffa500"/>
<rect x="201.70" y="2110.96" width="9.90" height="1.8" fill="#000"/>
<rect x="201.70" y="2114.96" width="9.90" height="2.4" fill="#000"/>
<rect x="214.10" y="2110.96" width="9.90" height="1.8" fill="#000"/>
<rect x="214.10" y="2114.96" width="9.90" height="2.4" fill="#000"/>
<rect x="226.50" y="2110.96" width="9.90" height="1.8" fill="#000"/>
<rect x="226.50" y="2114.96" width="9.90" height="2.4" fill="#000"/>
<rect x="238.90" y="2110.96" width="9.90" height="1.8" fill="#000"/>
<rect x="238.90" y="2114.96" width="9.90" height="2.4" fill="#000"/>
<rect x="251.30" y="2110.96" width="9.90" height="1.8" fill="#000"/>
<rect x="251.30" y="2114.96" width="9.90" height="2.4" fill="#000"/>
<path d="M264.40,2109.26 L272.10,2114.06 L264.40,2118.86" fill="none" stroke="#000" stroke-width="2.2" stroke-linejoin="miter" stroke-miterlimit="6"/>
<rect x="111.70" y="2121.35" width="11.2" height="11" fill="#ffa500"/>
<path d="M178.80,2118.85 L187.00,2126.85 L178.80,2134.85 L170.60,2126.85 Z" fill="#ff0000"/>
<rect x="111.60" y="2134.15" width="11.2" height="11" fill="#ffa500"/>
<path d="M177.40,2131.65 L185.60,2139.65 L177.40,2147.65 L169.20,2139.65 Z" fill="#ff0000"/>
<rect x="106.00" y="2146.94" width="11.2" height="11" fill="#ffa500"/>
<path d="M175.30,2144.44 L183.50,2152.44 L175.30,2160.44 L167.10,2152.44 Z" fill="#ff0000"/>
<circle cx="117.80" cy="2165.24" r="6.3" fill="#0000ff"/>
<rect x="173.30" y="2162.14" width="9.90" height="1.8" fill="#000"/>
<rect x="173.30" y="2166.14" width="9.90" height="2.4" fill="#000"/>
<rect x="185.70" y="2162.14" width="9.90" height="1.8" fill="#000"/>
<rect x="185.70" y="2166.14" width="9.90" height="2.4" fill="#000"/>
<rect x="198.10" y="2162.14" width="9.90" height="1.8" fill="#000"/>
<rect x="198.10" y="2166.14" width="9.90" height="2.4" fill="#000"/>
<rect x="210.50" y="2162.14" width="9.90" height="1.8" fill="#000"/>
<rect x="210.50" y="2166.14" width="9.90" height="2.4" fill="#000"/>
<rect x="222.90" y="2162.14" width="9.90" height="1.8" fill="#000"/>
<rect x="222.90" y="2166.14" width="9.90" height="2.4" fill="#000"/>
<path d="M236.00,2160.44 L243.70,2165.24 L236.00,2170.04" fill="none" stroke="#000" stroke-width="2.2" stroke-linejoin="miter" stroke-miterlimit="6"/>
<rect x="108.50" y="2172.53" width="11.2" height="11" fill="#ffa500"/>
<path d="M144.90,2170.03 L153.10,2178.03 L144.90,2186.03 L136.70,2178.03 Z" fill="#ff0000"/>
<rect x="110.20" y="2185.32" width="11.2" height="11" fill="#ffa500"/>
<rect x="160.20" y="2187.72" width="9.90" height="1.8" fill="#000"/>
<rect x="160.20" y="2191.72" width="9.90" height="2.4" fill="#000"/>
<rect x="172.60" y="2187.72" width="9.90" height="1.8" fill="#000"/>
<rect x="172.60" y="2191.72" width="9.90" height="2.4" fill="#000"/>
<rect x="185.00" y="2187.72" width="9.90" height="1.8" fill="#000"/>
<rect x="185.00" y="2191.72" width="9.90" height="2.4" fill="#000"/>
<rect x="197.40" y="2187.72" width="9.90" height="1.8" fill="#000"/>
<rect x="197.40" y="2191.72" width="9.90" height="2.4" fill="#000"/>
<rect x="209.80" y="2187.72" width="9.90" height="1.8" fill="#000"/>
<rect x="209.80" y="2191.72" width="9.90" height="2.4" fill="#000"/>
<path d="M222.90,2186.02 L230.60,2190.82 L222.90,2195.62" fill="none" stroke="#000" stroke-width="2.2" stroke-linejoin="miter" stroke-miterlimit="6"/>
<circle cx="104.90" cy="2203.62" r="6.3" fill="#0000ff"/>
<circle cx="140.50" cy="2203.62" r="6.3" fill="#0000ff"/>
<rect x="152.30" y="2200.52" width="9.90" height="1.8" fill="#000"/>
<rect x="152.30" y="2204.52" width="9.90" height="2.4" fill="#000"/>
<rect x="164.70" y="2200.52" width="9.90" height="1.8" fill="#000"/>
<rect x="164.70" y="2204.52" width="9.90" height="2.4" fill="#000"/>
<rect x="177.10" y="2200.52" width="9.90" height="1.8" fill="#000"/>
<rect x="177.10" y="2204.52" width="9.90" height="2.4" fill="#000"/>
<rect x="189.50" y="2200.52" width="9.90" height="1.8" fill="#000"/>
<rect x="189.50" y="2204.52" width="9.90" height="2.4" fill="#000"/>
<rect x="201.90" y="2200.52" width="9.90" height="1.8" fill="#000"/>
<rect x="201.90" y="2204.52" width="9.90" height="2.4" fill="#000"/>
<path d="M215.00,2198.82 L222.70,2203.62 L215.00,2208.42" fill="none" stroke="#000" stroke-width="2.2" stroke-linejoin="miter" stroke-miterlimit="6"/>
<rect x="110.20" y="2210.91" width="11.2" height="11" fill="#ffa500"/>
<rect x="109.20" y="2223.71" width="11.2" height="11" fill="#ffa500"/>
<rect x="141.70" y="2226.11" width="9.90" height="1.8" fill="#000"/>
<rect x="141.70" y="2230.11" width="9.90" height="2.4" fill="#000"/>
<rect x="154.10" y="2226.11" width="9.90" height="1.8" fill="#000"/>
<rect x="154.10" y="2230.11" width="9.90" height="2.4" fill="#000"/>
<rect x="166.50" y="2226.11" width="9.90" height="1.8" fill="#000"/>
<rect x="166.50" y="2230.11" width="9.90" height="2.4" fill="#000"/>
<rect x="178.90" y="2226.11" width="9.90" height="1.8" fill="#000"/>
<rect x="178.90" y="2230.11" width="9.90" height="2.4" fill="#000"/>
<rect x="191.30" y="2226.11" width="9.90" height="1.8" fill="#000"/>
<rect x="191.30" y="2230.11" width="9.90" height="2.4" fill="#000"/>
<path d="M204.40,2224.41 L212.10,2229.21 L204.40,2234.01" fill="none" stroke="#000" stroke-width="2.2" stroke-linejoin="miter" stroke-miterlimit="6"/>
<path d="M116.90,2234.00 L125.10,2242.00 L116.90,2250.00 L108.70,2242.00 Z" fill="#ff0000"/>
<path d="M117.70,2246.79 L125.90,2254.79 L117.70,2262.79 L109.50,2254.79 Z" fill="#ff0000"/>
<path d="M117.70,2259.59 L125.90,2267.59 L117.70,2275.59 L109.50,2267.59 Z" fill="#ff0000"/>
<path d="M117.70,2272.38 L125.90,2280.38 L117.70,2288.38 L109.50,2280.38 Z" fill="#ff0000"/>
<path d="M117.70,2285.18 L125.90,2293.18 L117.70,2301.18 L109.50,2293.18 Z" fill="#ff0000"/>
<path d="M115.30,2297.97 L123.50,2305.97 L115.30,2313.97 L107.10,2305.97 Z" fill="#ff0000"/>
<circle cx="113.30" cy="2318.76" r="6.3" fill="#0000ff"/>
<rect x="125.20" y="2315.66" width="9.90" height="1.8" fill="#000"/>
<rect x="125.20" y="2319.66" width="9.90" height="2.4" fill="#000"/>
<rect x="137.60" y="2315.66" width="9.90" height="1.8" fill="#000"/>
<rect x="137.60" y="2319.66" width="9.90" height="2.4" fill="#000"/>
<rect x="150.00" y="2315.66" width="9.90" height="1.8" fill="#000"/>
<rect x="150.00" y="2319.66" width="9.90" height="2.4" fill="#000"/>
<rect x="162.40" y="2315.66" width="9.90" height="1.8" fill="#000"/>
<rect x="162.40" y="2319.66" width="9.90" height="2.4" fill="#000"/>
<rect x="174.80" y="2315.66" width="9.90" height="1.8" fill="#000"/>
<rect x="174.80" y="2319.66" width="9.90" height="2.4" fill="#000"/>
<path d="M187.90,2313.96 L195.60,2318.76 L187.90,2323.56" fill="none" stroke="#000" stroke-width="2.2" stroke-linejoin="miter" stroke-miterlimit="6"/>
<rect x="345.7" y="2387.0" width="12.0" height="12.0" fill="url(#lsw)" stroke="#4a5563" stroke-width="1.1"/>
<text x="372.00" y="2399.60" font-size="25" font-weight="normal" fill="#111" textLength="92.47" lengthAdjust="spacingAndGlyphs" >Therapy</text>
<path d="M500.5,2384 L509.4,2392.9 L500.5,2401.8 L491.6,2392.9 Z" fill="#ff0000"/>
<text x="519.19" y="2399.60" font-size="25" font-weight="normal" fill="#111" textLength="33.19" lengthAdjust="spacingAndGlyphs" >PD</text>
<rect x="590" y="2387.6" width="11.8" height="10.6" fill="#ffa500"/>
<text x="612.03" y="2399.60" font-size="25" font-weight="normal" fill="#111" textLength="33.04" lengthAdjust="spacingAndGlyphs" >SD</text>
<circle cx="691.4" cy="2393" r="6.6" fill="#0000ff"/>
<text x="706.85" y="2399.60" font-size="25" font-weight="normal" fill="#111" textLength="30.31" lengthAdjust="spacingAndGlyphs" >PR</text>
<rect x="454.60" y="2438.41" width="8.91" height="1.5" fill="#000"/>
<rect x="454.60" y="2442.01" width="8.91" height="1.9" fill="#000"/>
<rect x="465.76" y="2438.41" width="8.91" height="1.5" fill="#000"/>
<rect x="465.76" y="2442.01" width="8.91" height="1.9" fill="#000"/>
<rect x="476.92" y="2438.41" width="8.91" height="1.5" fill="#000"/>
<rect x="476.92" y="2442.01" width="8.91" height="1.9" fill="#000"/>
<rect x="488.08" y="2438.41" width="8.91" height="1.5" fill="#000"/>
<rect x="488.08" y="2442.01" width="8.91" height="1.9" fill="#000"/>
<rect x="499.24" y="2438.41" width="8.91" height="1.5" fill="#000"/>
<rect x="499.24" y="2442.01" width="8.91" height="1.9" fill="#000"/>
<path d="M511.03,2436.88 L517.96,2441.20 L511.03,2445.52" fill="none" stroke="#000" stroke-width="1.8" stroke-linejoin="miter" stroke-miterlimit="6"/>
<text x="529.36" y="2448.50" font-size="25" font-weight="normal" fill="#111" textLength="103.81" lengthAdjust="spacingAndGlyphs" >Ongoing</text>
</svg>
</body></html>
